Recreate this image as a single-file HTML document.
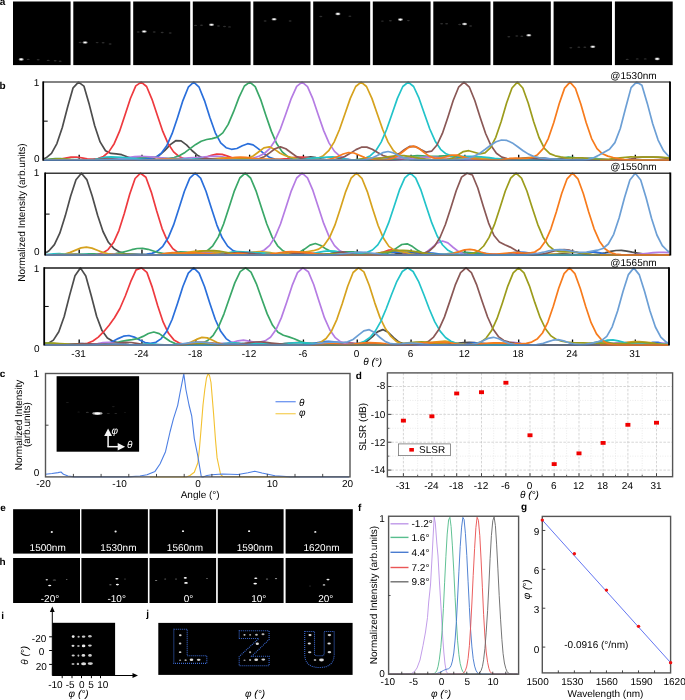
<!DOCTYPE html><html><head><meta charset="utf-8"><style>html,body{margin:0;padding:0;background:#fff;overflow:hidden;}svg{display:block;will-change:transform;}text{font-family:"Liberation Sans", sans-serif;text-rendering:geometricPrecision;}</style></head><body>
<svg width="685" height="700" viewBox="0 0 685 700">
<defs><filter id="bl" x="-100%" y="-100%" width="300%" height="300%"><feGaussianBlur stdDeviation="0.6"/></filter></defs>
<rect width="685" height="700" fill="#fff"/>
<text x="-0.30" y="4.60" font-size="10" font-weight="bold" >a</text>
<rect x="13.00" y="1.50" width="57.60" height="63.60" fill="#000" />
<rect x="73.30" y="1.50" width="57.20" height="63.60" fill="#000" />
<rect x="133.20" y="1.50" width="57.00" height="63.60" fill="#000" />
<rect x="192.80" y="1.50" width="57.80" height="63.60" fill="#000" />
<rect x="253.30" y="1.50" width="57.20" height="63.60" fill="#000" />
<rect x="313.20" y="1.50" width="57.00" height="63.60" fill="#000" />
<rect x="372.80" y="1.50" width="57.80" height="63.60" fill="#000" />
<rect x="433.30" y="1.50" width="57.20" height="63.60" fill="#000" />
<rect x="493.20" y="1.50" width="57.60" height="63.60" fill="#000" />
<rect x="553.60" y="1.50" width="58.40" height="63.60" fill="#000" />
<rect x="614.90" y="1.50" width="57.80" height="63.60" fill="#000" />
<ellipse cx="28.2" cy="59.4" rx="1.5" ry="0.7" fill="#555" opacity="0.55" filter="url(#bl)"/>
<ellipse cx="38.2" cy="59.7" rx="1.5" ry="0.7" fill="#555" opacity="0.55" filter="url(#bl)"/>
<ellipse cx="48.2" cy="60.4" rx="1.5" ry="0.7" fill="#555" opacity="0.55" filter="url(#bl)"/>
<ellipse cx="55.2" cy="60.7" rx="1.5" ry="0.7" fill="#555" opacity="0.55" filter="url(#bl)"/>
<ellipse cx="60.2" cy="61.2" rx="1.5" ry="0.7" fill="#555" opacity="0.55" filter="url(#bl)"/>
<ellipse cx="21.2" cy="59.4" rx="2.6" ry="1.3" fill="#888" filter="url(#bl)"/>
<ellipse cx="21.2" cy="59.4" rx="1.5" ry="0.8" fill="#fff" filter="url(#bl)"/>
<ellipse cx="80.1" cy="42.5" rx="1.5" ry="0.7" fill="#555" opacity="0.55" filter="url(#bl)"/>
<ellipse cx="97.1" cy="42.6" rx="1.5" ry="0.7" fill="#555" opacity="0.55" filter="url(#bl)"/>
<ellipse cx="103.1" cy="42.8" rx="1.5" ry="0.7" fill="#555" opacity="0.55" filter="url(#bl)"/>
<ellipse cx="110.1" cy="44.0" rx="1.5" ry="0.7" fill="#555" opacity="0.55" filter="url(#bl)"/>
<ellipse cx="85.1" cy="42.5" rx="2.6" ry="1.3" fill="#888" filter="url(#bl)"/>
<ellipse cx="85.1" cy="42.5" rx="1.5" ry="0.8" fill="#fff" filter="url(#bl)"/>
<ellipse cx="138.2" cy="32.0" rx="1.5" ry="0.7" fill="#555" opacity="0.55" filter="url(#bl)"/>
<ellipse cx="154.2" cy="32.0" rx="1.5" ry="0.7" fill="#555" opacity="0.55" filter="url(#bl)"/>
<ellipse cx="162.2" cy="32.5" rx="1.5" ry="0.7" fill="#555" opacity="0.55" filter="url(#bl)"/>
<ellipse cx="170.2" cy="33.0" rx="1.5" ry="0.7" fill="#555" opacity="0.55" filter="url(#bl)"/>
<ellipse cx="144.2" cy="31.5" rx="2.6" ry="1.3" fill="#888" filter="url(#bl)"/>
<ellipse cx="144.2" cy="31.5" rx="1.5" ry="0.8" fill="#fff" filter="url(#bl)"/>
<ellipse cx="195.5" cy="25.4" rx="1.5" ry="0.7" fill="#555" opacity="0.55" filter="url(#bl)"/>
<ellipse cx="201.5" cy="25.2" rx="1.5" ry="0.7" fill="#555" opacity="0.55" filter="url(#bl)"/>
<ellipse cx="218.5" cy="26.0" rx="1.5" ry="0.7" fill="#555" opacity="0.55" filter="url(#bl)"/>
<ellipse cx="224.5" cy="26.5" rx="1.5" ry="0.7" fill="#555" opacity="0.55" filter="url(#bl)"/>
<ellipse cx="229.5" cy="26.9" rx="1.5" ry="0.7" fill="#555" opacity="0.55" filter="url(#bl)"/>
<ellipse cx="211.5" cy="24.7" rx="2.6" ry="1.3" fill="#888" filter="url(#bl)"/>
<ellipse cx="211.5" cy="24.7" rx="1.5" ry="0.8" fill="#fff" filter="url(#bl)"/>
<ellipse cx="265.1" cy="21.0" rx="1.5" ry="0.7" fill="#555" opacity="0.55" filter="url(#bl)"/>
<ellipse cx="290.1" cy="21.0" rx="1.5" ry="0.7" fill="#555" opacity="0.55" filter="url(#bl)"/>
<ellipse cx="274.1" cy="19.2" rx="2.6" ry="1.3" fill="#888" filter="url(#bl)"/>
<ellipse cx="274.1" cy="19.2" rx="1.5" ry="0.8" fill="#fff" filter="url(#bl)"/>
<ellipse cx="320.9" cy="16.5" rx="1.5" ry="0.7" fill="#555" opacity="0.55" filter="url(#bl)"/>
<ellipse cx="349.9" cy="16.2" rx="1.5" ry="0.7" fill="#555" opacity="0.55" filter="url(#bl)"/>
<ellipse cx="337.9" cy="13.9" rx="2.6" ry="1.3" fill="#888" filter="url(#bl)"/>
<ellipse cx="337.9" cy="13.9" rx="1.5" ry="0.8" fill="#fff" filter="url(#bl)"/>
<ellipse cx="382.4" cy="21.1" rx="1.5" ry="0.7" fill="#555" opacity="0.55" filter="url(#bl)"/>
<ellipse cx="390.4" cy="20.8" rx="1.5" ry="0.7" fill="#555" opacity="0.55" filter="url(#bl)"/>
<ellipse cx="408.4" cy="20.6" rx="1.5" ry="0.7" fill="#555" opacity="0.55" filter="url(#bl)"/>
<ellipse cx="400.4" cy="19.6" rx="2.6" ry="1.3" fill="#888" filter="url(#bl)"/>
<ellipse cx="400.4" cy="19.6" rx="1.5" ry="0.8" fill="#fff" filter="url(#bl)"/>
<ellipse cx="441.6" cy="23.7" rx="1.5" ry="0.7" fill="#555" opacity="0.55" filter="url(#bl)"/>
<ellipse cx="446.6" cy="23.7" rx="1.5" ry="0.7" fill="#555" opacity="0.55" filter="url(#bl)"/>
<ellipse cx="459.6" cy="24.5" rx="1.5" ry="0.7" fill="#555" opacity="0.55" filter="url(#bl)"/>
<ellipse cx="470.6" cy="26.0" rx="1.5" ry="0.7" fill="#555" opacity="0.55" filter="url(#bl)"/>
<ellipse cx="464.6" cy="24.0" rx="2.6" ry="1.3" fill="#888" filter="url(#bl)"/>
<ellipse cx="464.6" cy="24.0" rx="1.5" ry="0.8" fill="#fff" filter="url(#bl)"/>
<ellipse cx="508.8" cy="36.7" rx="1.5" ry="0.7" fill="#555" opacity="0.55" filter="url(#bl)"/>
<ellipse cx="516.8" cy="36.0" rx="1.5" ry="0.7" fill="#555" opacity="0.55" filter="url(#bl)"/>
<ellipse cx="521.8" cy="36.2" rx="1.5" ry="0.7" fill="#555" opacity="0.55" filter="url(#bl)"/>
<ellipse cx="528.8" cy="35.2" rx="2.6" ry="1.3" fill="#888" filter="url(#bl)"/>
<ellipse cx="528.8" cy="35.2" rx="1.5" ry="0.8" fill="#fff" filter="url(#bl)"/>
<ellipse cx="570.8" cy="47.8" rx="1.5" ry="0.7" fill="#555" opacity="0.55" filter="url(#bl)"/>
<ellipse cx="578.8" cy="47.3" rx="1.5" ry="0.7" fill="#555" opacity="0.55" filter="url(#bl)"/>
<ellipse cx="584.8" cy="47.3" rx="1.5" ry="0.7" fill="#555" opacity="0.55" filter="url(#bl)"/>
<ellipse cx="592.8" cy="46.8" rx="2.6" ry="1.3" fill="#888" filter="url(#bl)"/>
<ellipse cx="592.8" cy="46.8" rx="1.5" ry="0.8" fill="#fff" filter="url(#bl)"/>
<ellipse cx="627.2" cy="59.4" rx="1.5" ry="0.7" fill="#555" opacity="0.55" filter="url(#bl)"/>
<ellipse cx="637.2" cy="58.9" rx="1.5" ry="0.7" fill="#555" opacity="0.55" filter="url(#bl)"/>
<ellipse cx="645.2" cy="58.9" rx="1.5" ry="0.7" fill="#555" opacity="0.55" filter="url(#bl)"/>
<ellipse cx="657.2" cy="58.9" rx="2.6" ry="1.3" fill="#888" filter="url(#bl)"/>
<ellipse cx="657.2" cy="58.9" rx="1.5" ry="0.8" fill="#fff" filter="url(#bl)"/>
<text x="-0.40" y="89.30" font-size="10" font-weight="bold" >b</text>
<line x1="79.18" y1="160.20" x2="79.18" y2="154.70" stroke="#000" stroke-width="1.3" />
<line x1="141.97" y1="160.20" x2="141.97" y2="154.70" stroke="#000" stroke-width="1.3" />
<line x1="195.79" y1="160.20" x2="195.79" y2="154.70" stroke="#000" stroke-width="1.3" />
<line x1="249.61" y1="160.20" x2="249.61" y2="154.70" stroke="#000" stroke-width="1.3" />
<line x1="303.43" y1="160.20" x2="303.43" y2="154.70" stroke="#000" stroke-width="1.3" />
<line x1="357.25" y1="160.20" x2="357.25" y2="154.70" stroke="#000" stroke-width="1.3" />
<line x1="411.07" y1="160.20" x2="411.07" y2="154.70" stroke="#000" stroke-width="1.3" />
<line x1="464.89" y1="160.20" x2="464.89" y2="154.70" stroke="#000" stroke-width="1.3" />
<line x1="518.71" y1="160.20" x2="518.71" y2="154.70" stroke="#000" stroke-width="1.3" />
<line x1="572.53" y1="160.20" x2="572.53" y2="154.70" stroke="#000" stroke-width="1.3" />
<line x1="635.32" y1="160.20" x2="635.32" y2="154.70" stroke="#000" stroke-width="1.3" />
<polyline points="44.0,158.7 46.1,157.8 51.5,153.3 56.9,143.6 62.3,127.5 67.7,106.7 73.1,87.8 78.5,82.1 83.9,86.1 89.3,104.6 94.7,125.7 100.1,141.9 105.5,150.7 110.9,153.4 116.3,153.8 121.7,154.7 127.1,156.7 132.5,158.6 137.9,159.7 143.3,159.9 148.7,159.6 154.1,158.2 159.5,155.2 164.9,150.3 170.3,144.6 175.7,140.7 181.1,140.9 186.5,144.9 191.9,150.5 197.3,155.2 202.7,158.0 208.1,159.4 213.5,159.9 218.9,160.1 224.3,160.0 229.7,159.9 235.1,159.6 240.5,159.3 245.9,159.2 251.3,159.3 256.7,159.6 262.1,159.8 267.5,160.0 272.9,160.1 278.3,160.2 283.7,160.2 289.1,160.2 294.5,159.9 299.9,159.0 305.3,157.6 310.7,156.9 316.1,157.7 321.5,159.1 326.9,159.9 332.3,160.2 337.7,160.2 343.1,160.2 348.5,160.2 353.9,160.2 359.3,160.2 364.7,160.2 370.1,160.1 375.5,160.0 380.9,159.8 386.3,159.5 391.7,159.2 397.1,158.8 402.5,158.6 407.9,158.6 413.3,158.9 418.7,159.2 424.1,159.6 429.5,159.9 434.9,160.0 440.3,160.1 445.7,160.2 451.1,160.2 456.5,160.2 461.9,160.2 467.3,160.2 472.7,160.2 478.1,160.2 483.5,160.2 488.9,160.2 494.3,160.2 499.7,160.2 505.1,160.2 510.5,160.2 515.9,160.2 521.3,160.2 526.7,160.2 532.1,160.2 537.5,160.2 542.9,160.2 548.3,160.2 553.7,160.2 559.1,160.2 564.5,160.2 569.9,160.2 575.3,160.2 580.7,160.2 586.1,160.2 591.5,160.2 596.9,160.2 602.3,160.2 607.7,160.2 613.1,160.2 618.5,160.2 623.9,160.2 629.3,160.2 634.7,160.2 640.1,160.2 645.5,160.2 650.9,160.2 656.3,160.2 661.7,160.2 667.1,160.2 669.0,160.2" fill="none" stroke="#4d4d4d" stroke-width="1.7" stroke-linejoin="round" />
<polyline points="44.0,160.2 49.4,160.1 54.8,159.9 60.2,159.2 65.6,158.1 71.0,157.2 76.4,157.2 81.8,157.9 87.2,158.8 92.6,159.2 98.0,158.6 103.4,156.5 108.8,151.9 114.2,143.7 119.6,131.2 125.0,115.1 130.4,98.5 135.8,85.9 141.2,82.1 146.6,86.5 152.0,99.3 157.4,115.6 162.8,131.4 168.2,143.8 173.6,151.9 179.0,156.5 184.4,158.7 189.8,159.6 195.2,159.6 200.6,158.9 206.0,157.3 211.4,155.3 216.8,154.0 222.2,154.4 227.6,156.1 233.0,158.0 238.4,159.3 243.8,159.9 249.2,160.1 254.6,160.2 260.0,160.2 265.4,160.2 270.8,160.0 276.2,159.8 281.6,159.2 287.0,158.5 292.4,157.6 297.8,157.1 303.2,157.2 308.6,157.8 314.0,158.6 319.4,159.4 324.8,159.8 330.2,160.1 335.6,160.2 341.0,160.2 346.4,160.2 351.8,160.2 357.2,160.2 362.6,160.2 368.0,160.2 373.4,160.2 378.8,160.2 384.2,160.2 389.6,160.1 395.0,159.9 400.4,159.3 405.8,158.7 411.2,158.4 416.6,158.8 422.0,159.4 427.4,159.5 432.8,159.3 438.2,158.8 443.6,158.6 449.0,158.7 454.4,158.9 459.8,158.9 465.2,158.5 470.6,158.5 476.0,158.9 481.4,159.5 486.8,160.0 492.2,160.1 497.6,160.2 503.0,160.2 508.4,160.2 513.8,160.2 519.2,160.2 524.6,160.2 530.0,160.1 535.4,160.0 540.8,159.7 546.2,159.4 551.6,159.2 557.0,159.1 562.4,159.4 567.8,159.7 573.2,160.0 578.6,160.1 584.0,160.2 589.4,160.2 594.8,160.2 600.2,160.2 605.6,160.2 611.0,160.2 616.4,160.2 621.8,160.2 627.2,160.2 632.6,160.2 638.0,160.2 643.4,160.2 648.8,160.2 654.2,160.2 659.6,160.2 665.0,160.2 669.0,160.2" fill="none" stroke="#ee3a3f" stroke-width="1.7" stroke-linejoin="round" />
<polyline points="44.0,160.2 47.9,160.2 53.3,160.2 58.7,160.2 64.1,160.2 69.5,160.2 74.9,160.2 80.3,160.2 85.7,160.1 91.1,160.0 96.5,159.8 101.9,159.5 107.3,159.0 112.7,158.6 118.1,158.5 123.5,158.6 128.9,158.6 134.3,158.1 139.7,158.0 145.1,158.7 150.5,158.8 155.9,157.3 161.3,153.3 166.7,145.8 172.1,133.7 177.5,117.7 182.9,100.6 188.3,87.2 193.7,82.1 199.1,87.2 204.5,100.6 209.9,117.5 215.3,132.8 220.7,142.9 226.1,147.7 231.5,149.3 236.9,148.5 242.3,145.8 247.7,143.7 253.1,144.9 258.5,148.9 263.9,153.6 269.3,157.2 274.7,159.1 280.1,159.9 285.5,160.1 290.9,160.2 296.3,160.2 301.7,160.2 307.1,160.2 312.5,160.2 317.9,160.2 323.3,160.2 328.7,160.2 334.1,160.2 339.5,160.2 344.9,160.2 350.3,160.2 355.7,160.2 361.1,160.2 366.5,160.2 371.9,160.1 377.3,159.9 382.7,159.6 388.1,159.2 393.5,158.7 398.9,158.4 404.3,158.3 409.7,158.5 415.1,158.9 420.5,159.4 425.9,159.8 431.3,160.0 436.7,160.0 442.1,159.7 447.5,159.2 452.9,158.4 458.3,157.8 463.7,157.7 469.1,158.1 474.5,158.7 479.9,159.1 485.3,159.2 490.7,159.1 496.1,158.9 501.5,158.9 506.9,159.0 512.3,159.3 517.7,159.6 523.1,159.7 528.5,159.4 533.9,158.6 539.3,157.9 544.7,158.0 550.1,158.9 555.5,159.7 560.9,160.1 566.3,160.1 571.7,159.9 577.1,159.6 582.5,159.2 587.9,158.9 593.3,158.8 598.7,159.0 604.1,159.4 609.5,159.8 614.9,160.0 620.3,160.1 625.7,160.2 631.1,160.2 636.5,160.2 641.9,160.2 647.3,160.2 652.7,160.2 658.1,160.2 663.5,160.2 668.9,160.2 669.0,160.2" fill="none" stroke="#2a6fdb" stroke-width="1.7" stroke-linejoin="round" />
<polyline points="44.0,159.9 44.6,159.8 50.0,159.1 55.4,158.5 60.8,158.6 66.2,159.3 71.6,159.9 77.0,160.1 82.4,160.2 87.8,160.2 93.2,160.1 98.6,159.9 104.0,159.7 109.4,159.5 114.8,159.4 120.2,159.3 125.6,159.2 131.0,158.9 136.4,158.4 141.8,157.6 147.2,157.1 152.6,157.1 158.0,157.6 163.4,158.1 168.8,158.3 174.2,157.5 179.6,155.6 185.0,152.4 190.4,148.4 195.8,144.4 201.2,141.2 206.6,139.5 212.0,138.6 217.4,137.1 222.8,132.9 228.2,124.4 233.6,111.7 239.0,97.4 244.4,86.0 249.8,82.1 255.2,86.7 260.6,99.3 266.0,115.7 271.4,131.4 276.8,143.8 282.2,151.9 287.6,156.5 293.0,158.8 298.4,159.7 303.8,160.0 309.2,160.2 314.6,160.2 320.0,160.2 325.4,160.2 330.8,160.2 336.2,160.2 341.6,160.2 347.0,160.2 352.4,160.2 357.8,160.2 363.2,160.2 368.6,160.1 374.0,160.0 379.4,159.9 384.8,159.7 390.2,159.4 395.6,158.9 401.0,158.1 406.4,157.0 411.8,156.1 417.2,155.7 422.6,155.9 428.0,156.3 433.4,156.4 438.8,156.2 444.2,155.8 449.6,155.8 455.0,156.2 460.4,157.1 465.8,158.1 471.2,159.0 476.6,159.6 482.0,160.0 487.4,160.1 492.8,160.2 498.2,160.2 503.6,160.2 509.0,160.2 514.4,160.2 519.8,160.2 525.2,160.2 530.6,160.2 536.0,160.2 541.4,160.2 546.8,160.0 552.2,159.6 557.6,158.8 563.0,157.8 568.4,157.2 573.8,157.5 579.2,158.3 584.6,159.3 590.0,159.9 595.4,160.1 600.8,160.2 606.2,160.2 611.6,160.2 617.0,160.2 622.4,160.2 627.8,160.2 633.2,160.2 638.6,160.2 644.0,160.2 649.4,160.2 654.8,160.2 660.2,160.2 665.6,160.2 669.0,160.2" fill="none" stroke="#3aa768" stroke-width="1.7" stroke-linejoin="round" />
<polyline points="44.0,160.2 48.3,160.2 53.7,160.2 59.1,160.2 64.5,160.2 69.9,160.2 75.3,160.2 80.7,160.2 86.1,160.2 91.5,160.2 96.9,160.2 102.3,160.1 107.7,159.9 113.1,159.5 118.5,158.8 123.9,158.0 129.3,157.3 134.7,156.7 140.1,156.4 145.5,156.5 150.9,156.8 156.3,157.3 161.7,157.8 167.1,158.4 172.5,158.7 177.9,158.6 183.3,158.3 188.7,157.9 194.1,157.6 199.5,157.3 204.9,156.8 210.3,156.3 215.7,156.2 221.1,156.7 226.5,157.7 231.9,158.7 237.3,159.3 242.7,159.4 248.1,159.0 253.5,158.0 258.9,156.3 264.3,153.5 269.7,148.6 275.1,140.6 280.5,128.8 285.9,113.8 291.3,98.3 296.7,86.4 302.1,82.1 307.5,86.7 312.9,98.9 318.3,115.0 323.7,130.6 329.1,143.1 334.5,151.4 339.9,156.2 345.3,158.6 350.7,159.6 356.1,159.9 361.5,159.8 366.9,159.5 372.3,158.8 377.7,158.1 383.1,157.5 388.5,157.3 393.9,157.5 399.3,158.0 404.7,158.3 410.1,158.3 415.5,158.0 420.9,157.5 426.3,157.1 431.7,157.1 437.1,157.4 442.5,158.0 447.9,158.7 453.3,159.3 458.7,159.7 464.1,160.0 469.5,160.1 474.9,160.2 480.3,160.2 485.7,160.2 491.1,160.2 496.5,160.2 501.9,160.2 507.3,160.2 512.7,160.2 518.1,160.2 523.5,160.2 528.9,160.2 534.3,160.2 539.7,160.2 545.1,160.2 550.5,160.2 555.9,160.2 561.3,160.1 566.7,159.9 572.1,159.5 577.5,158.8 582.9,158.2 588.3,158.2 593.7,158.6 599.1,159.3 604.5,159.8 609.9,160.1 615.3,160.2 620.7,160.2 626.1,160.2 631.5,160.2 636.9,160.2 642.3,160.2 647.7,160.2 653.1,160.2 658.5,160.2 663.9,160.2 669.0,160.2" fill="none" stroke="#b57ce3" stroke-width="1.7" stroke-linejoin="round" />
<polyline points="44.0,160.2 47.9,160.2 53.3,160.2 58.7,160.2 64.1,160.2 69.5,160.2 74.9,160.2 80.3,160.2 85.7,160.2 91.1,160.2 96.5,160.2 101.9,160.2 107.3,160.2 112.7,160.2 118.1,160.2 123.5,160.2 128.9,160.2 134.3,160.2 139.7,160.2 145.1,160.2 150.5,160.2 155.9,160.2 161.3,160.2 166.7,160.2 172.1,160.2 177.5,160.2 182.9,160.2 188.3,160.1 193.7,160.0 199.1,159.7 204.5,159.4 209.9,159.0 215.3,158.6 220.7,158.2 226.1,157.9 231.5,157.8 236.9,158.1 242.3,158.5 247.7,158.1 253.1,156.0 258.5,152.0 263.9,147.9 269.3,146.8 274.7,149.4 280.1,153.2 285.5,155.7 290.9,157.2 296.3,158.6 301.7,159.5 307.1,159.8 312.5,159.5 317.9,158.3 323.3,155.7 328.7,150.7 334.1,142.1 339.5,129.5 344.9,114.0 350.3,98.4 355.7,86.5 361.1,82.1 366.5,86.5 371.9,98.4 377.3,114.0 382.7,129.5 388.1,142.1 393.5,150.7 398.9,155.7 404.3,158.3 409.7,159.5 415.1,160.0 420.5,160.1 425.9,160.1 431.3,159.9 436.7,159.5 442.1,159.3 447.5,159.4 452.9,159.4 458.3,159.1 463.7,158.4 469.1,157.9 474.5,157.7 479.9,157.9 485.3,158.6 490.7,159.3 496.1,159.7 501.5,159.9 506.9,159.8 512.3,159.4 517.7,158.8 523.1,158.0 528.5,157.5 533.9,157.4 539.3,157.8 544.7,158.5 550.1,159.2 555.5,159.7 560.9,160.0 566.3,160.1 571.7,160.2 577.1,160.2 582.5,160.2 587.9,160.2 593.3,160.2 598.7,160.2 604.1,160.2 609.5,160.2 614.9,160.2 620.3,160.2 625.7,160.2 631.1,160.2 636.5,160.2 641.9,160.2 647.3,160.2 652.7,160.2 658.1,160.2 663.5,160.2 668.9,160.2 669.0,160.2" fill="none" stroke="#d6a21e" stroke-width="1.7" stroke-linejoin="round" />
<polyline points="44.0,160.2 46.4,160.2 51.8,160.2 57.2,160.2 62.6,160.1 68.0,159.9 73.4,159.6 78.8,159.6 84.2,159.8 89.6,159.8 95.0,159.4 100.4,158.3 105.8,157.1 111.2,156.8 116.6,157.1 122.0,157.4 127.4,157.8 132.8,158.4 138.2,159.0 143.6,159.5 149.0,159.9 154.4,160.0 159.8,159.9 165.2,159.6 170.6,159.2 176.0,159.2 181.4,159.4 186.8,159.4 192.2,159.2 197.6,158.8 203.0,158.7 208.4,159.1 213.8,159.6 219.2,160.0 224.6,160.2 230.0,160.2 235.4,160.2 240.8,160.2 246.2,160.2 251.6,160.2 257.0,160.2 262.4,160.2 267.8,160.2 273.2,160.2 278.6,160.1 284.0,160.1 289.4,159.9 294.8,159.6 300.2,159.2 305.6,158.7 311.0,158.2 316.4,157.9 321.8,157.6 327.2,157.2 332.6,156.9 338.0,157.4 343.4,158.6 348.8,159.5 354.2,159.8 359.6,159.4 365.0,158.3 370.4,155.7 375.8,150.7 381.2,142.1 386.6,129.5 392.0,114.0 397.4,98.4 402.8,86.5 408.2,82.1 413.6,86.5 419.0,98.2 424.4,113.8 429.8,129.0 435.2,141.2 440.6,149.3 446.0,153.8 451.4,155.8 456.8,156.4 462.2,156.4 467.6,156.3 473.0,156.3 478.4,156.6 483.8,157.1 489.2,157.7 494.6,158.4 500.0,158.9 505.4,159.4 510.8,159.7 516.2,159.9 521.6,160.1 527.0,160.1 532.4,160.2 537.8,160.2 543.2,160.2 548.6,160.2 554.0,160.2 559.4,160.2 564.8,160.2 570.2,160.2 575.6,160.0 581.0,159.4 586.4,158.5 591.8,158.0 597.2,158.7 602.6,159.6 608.0,160.1 613.4,160.2 618.8,160.2 624.2,160.2 629.6,160.2 635.0,160.2 640.4,160.2 645.8,160.2 651.2,160.2 656.6,160.2 662.0,160.2 667.4,160.2 669.0,160.2" fill="none" stroke="#22c3c9" stroke-width="1.7" stroke-linejoin="round" />
<polyline points="44.0,160.2 48.2,160.2 53.6,160.2 59.0,160.2 64.4,160.2 69.8,160.2 75.2,160.2 80.6,160.2 86.0,160.2 91.4,160.0 96.8,159.6 102.2,159.0 107.6,158.7 113.0,159.0 118.4,159.6 123.8,160.0 129.2,160.2 134.6,160.2 140.0,160.2 145.4,160.2 150.8,160.2 156.2,160.2 161.6,160.2 167.0,160.2 172.4,160.2 177.8,160.2 183.2,160.2 188.6,160.1 194.0,159.9 199.4,159.3 204.8,158.7 210.2,158.8 215.6,159.4 221.0,160.0 226.4,160.2 231.8,160.2 237.2,160.2 242.6,160.2 248.0,160.1 253.4,159.9 258.8,158.9 264.2,156.7 269.6,152.9 275.0,148.8 280.4,146.9 285.8,148.7 291.2,152.7 296.6,156.6 302.0,158.9 307.4,159.8 312.8,160.1 318.2,160.2 323.6,160.2 329.0,160.0 334.4,159.6 339.8,158.5 345.2,156.3 350.6,153.1 356.0,149.6 361.4,147.2 366.8,147.1 372.2,149.3 377.6,152.6 383.0,155.5 388.4,157.0 393.8,156.5 399.2,153.6 404.6,149.4 410.0,146.3 415.4,146.6 420.8,149.6 426.2,152.2 431.6,151.2 437.0,145.0 442.4,133.4 447.8,117.5 453.2,100.5 458.6,87.2 464.0,82.1 469.4,87.2 474.8,100.5 480.2,117.5 485.6,133.5 491.0,145.6 496.4,153.2 501.8,157.1 507.2,158.6 512.6,158.9 518.0,158.6 523.4,158.3 528.8,158.3 534.2,158.6 539.6,159.0 545.0,159.5 550.4,159.7 555.8,159.5 561.2,159.2 566.6,159.3 572.0,159.9 577.4,160.1 582.8,160.2 588.2,160.2 593.6,160.2 599.0,160.2 604.4,160.2 609.8,160.2 615.2,160.2 620.6,160.1 626.0,159.8 631.4,158.9 636.8,157.7 642.2,157.1 647.6,157.1 653.0,157.2 658.4,157.4 663.8,157.9 669.0,158.6" fill="none" stroke="#8a5856" stroke-width="1.7" stroke-linejoin="round" />
<polyline points="44.0,160.0 47.6,159.8 53.0,159.4 58.4,158.9 63.8,159.0 69.2,159.4 74.6,159.9 80.0,160.1 85.4,160.2 90.8,160.2 96.2,160.2 101.6,160.2 107.0,160.2 112.4,160.2 117.8,160.2 123.2,160.2 128.6,160.2 134.0,160.2 139.4,160.2 144.8,160.2 150.2,160.2 155.6,160.2 161.0,160.2 166.4,160.2 171.8,160.2 177.2,160.2 182.6,160.2 188.0,160.2 193.4,160.2 198.8,160.2 204.2,160.2 209.6,160.2 215.0,160.2 220.4,160.1 225.8,160.0 231.2,159.8 236.6,159.5 242.0,159.2 247.4,159.0 252.8,159.1 258.2,159.3 263.6,159.6 269.0,159.8 274.4,160.0 279.8,160.1 285.2,160.2 290.6,160.2 296.0,160.2 301.4,160.2 306.8,160.2 312.2,160.2 317.6,160.2 323.0,160.2 328.4,160.2 333.8,160.2 339.2,160.2 344.6,160.2 350.0,160.2 355.4,159.9 360.8,159.2 366.2,158.4 371.6,158.2 377.0,158.3 382.4,157.8 387.8,156.8 393.2,156.0 398.6,155.5 404.0,155.7 409.4,156.3 414.8,157.3 420.2,158.3 425.6,159.1 431.0,159.6 436.4,159.9 441.8,160.0 447.2,159.6 452.6,158.1 458.0,154.9 463.4,151.6 468.8,150.7 474.2,152.3 479.6,153.8 485.0,152.9 490.4,147.8 495.8,137.3 501.2,121.4 506.6,103.0 512.0,88.0 517.4,82.1 522.8,88.0 528.2,103.0 533.6,121.4 539.0,137.5 544.4,148.3 549.8,153.6 555.2,155.8 560.6,156.9 566.0,157.8 571.4,158.0 576.8,157.9 582.2,157.9 587.6,158.3 593.0,158.8 598.4,159.3 603.8,159.4 609.2,159.2 614.6,158.6 620.0,157.9 625.4,157.3 630.8,156.9 636.2,157.0 641.6,157.1 647.0,157.2 652.4,157.1 657.8,157.1 663.2,157.3 668.6,157.9 669.0,158.0" fill="none" stroke="#9c9c1c" stroke-width="1.7" stroke-linejoin="round" />
<polyline points="44.0,160.2 46.2,160.2 51.6,160.2 57.0,160.2 62.4,160.2 67.8,160.2 73.2,160.2 78.6,160.2 84.0,160.2 89.4,160.2 94.8,160.2 100.2,160.2 105.6,160.2 111.0,160.2 116.4,160.2 121.8,160.2 127.2,160.2 132.6,160.2 138.0,160.2 143.4,160.1 148.8,159.9 154.2,159.6 159.6,159.3 165.0,159.1 170.4,159.1 175.8,159.4 181.2,159.7 186.6,160.0 192.0,160.1 197.4,160.2 202.8,160.2 208.2,160.1 213.6,159.9 219.0,159.5 224.4,158.9 229.8,158.0 235.2,157.3 240.6,157.1 246.0,157.4 251.4,158.2 256.8,158.8 262.2,159.1 267.6,159.0 273.0,159.0 278.4,159.4 283.8,159.8 289.2,160.1 294.6,160.2 300.0,160.2 305.4,160.2 310.8,160.2 316.2,160.2 321.6,160.1 327.0,159.6 332.4,158.5 337.8,156.5 343.2,154.0 348.6,152.5 354.0,153.0 359.4,155.2 364.8,157.6 370.2,159.2 375.6,159.9 381.0,160.1 386.4,159.8 391.8,158.7 397.2,156.2 402.6,152.0 408.0,147.8 413.4,146.1 418.8,148.3 424.2,152.6 429.6,156.4 435.0,158.3 440.4,158.2 445.8,156.7 451.2,155.0 456.6,155.1 462.0,156.6 467.4,157.9 472.8,158.9 478.2,159.5 483.6,159.9 489.0,160.1 494.4,160.1 499.8,159.8 505.2,159.2 510.6,158.4 516.0,158.2 521.4,158.5 526.8,158.5 532.2,157.4 537.6,154.7 543.0,148.9 548.4,138.3 553.8,122.4 559.2,103.7 564.6,88.1 570.0,82.1 575.4,88.3 580.8,104.0 586.2,122.8 591.6,138.6 597.0,148.7 602.4,153.8 607.8,156.1 613.2,157.5 618.6,158.7 624.0,159.5 629.4,160.0 634.8,160.1 640.2,160.2 645.6,160.2 651.0,160.2 656.4,160.2 661.8,160.2 667.2,160.2 669.0,160.2" fill="none" stroke="#f77b1c" stroke-width="1.7" stroke-linejoin="round" />
<polyline points="44.0,160.2 47.9,160.2 53.3,160.2 58.7,160.2 64.1,160.2 69.5,160.2 74.9,160.2 80.3,160.2 85.7,160.2 91.1,160.1 96.5,160.1 101.9,159.9 107.3,159.7 112.7,159.5 118.1,159.3 123.5,159.2 128.9,159.3 134.3,159.5 139.7,159.8 145.1,160.0 150.5,160.1 155.9,160.2 161.3,160.2 166.7,160.2 172.1,160.2 177.5,160.2 182.9,160.2 188.3,160.2 193.7,160.2 199.1,160.2 204.5,160.2 209.9,160.2 215.3,160.2 220.7,160.2 226.1,160.2 231.5,160.2 236.9,160.2 242.3,160.2 247.7,160.2 253.1,160.2 258.5,160.2 263.9,160.2 269.3,160.2 274.7,160.2 280.1,160.2 285.5,160.2 290.9,160.2 296.3,160.2 301.7,160.2 307.1,160.2 312.5,160.2 317.9,160.2 323.3,160.2 328.7,160.2 334.1,160.2 339.5,160.2 344.9,160.2 350.3,160.2 355.7,160.2 361.1,160.0 366.5,159.4 371.9,158.0 377.3,155.5 382.7,152.7 388.1,151.5 393.5,152.9 398.9,155.7 404.3,158.1 409.7,159.5 415.1,160.0 420.5,160.2 425.9,160.2 431.3,160.2 436.7,160.2 442.1,160.2 447.5,160.2 452.9,160.1 458.3,159.8 463.7,159.2 469.1,158.1 474.5,156.1 479.9,153.2 485.3,149.3 490.7,145.2 496.1,141.8 501.5,140.0 506.9,140.4 512.3,142.9 517.7,146.7 523.1,150.7 528.5,154.1 533.9,156.5 539.3,157.9 544.7,158.6 550.1,158.9 555.5,159.2 560.9,159.5 566.3,159.8 571.7,160.0 577.1,160.1 582.5,160.1 587.9,159.5 593.3,158.0 598.7,155.2 604.1,152.2 609.5,149.2 614.9,142.6 620.3,128.5 625.7,107.7 631.1,87.6 636.5,82.1 641.9,85.2 647.3,103.4 652.7,123.7 658.1,140.1 663.5,150.7 668.9,156.5 669.0,156.6" fill="none" stroke="#6c9fd5" stroke-width="1.7" stroke-linejoin="round" />
<line x1="43.20" y1="160.20" x2="600.00" y2="160.20" stroke="#44648f" stroke-width="1.1" />
<line x1="600.00" y1="160.20" x2="670.00" y2="160.20" stroke="#b4683c" stroke-width="1.1" />
<line x1="43.20" y1="82.10" x2="670.00" y2="82.10" stroke="#5a5a5a" stroke-width="1.5" />
<line x1="43.20" y1="81.40" x2="43.20" y2="160.70" stroke="#000" stroke-width="1.8" />
<line x1="670.00" y1="81.40" x2="670.00" y2="160.70" stroke="#000" stroke-width="1.9" />
<line x1="43.20" y1="121.15" x2="47.70" y2="121.15" stroke="#000" stroke-width="1" />
<text x="36.60" y="86.10" font-size="10" text-anchor="middle" >1</text>
<text x="36.70" y="161.80" font-size="10" text-anchor="middle" >0</text>
<text x="656.60" y="79.10" font-size="10" text-anchor="end" >@1530nm</text>
<line x1="79.18" y1="255.00" x2="79.18" y2="249.50" stroke="#000" stroke-width="1.3" />
<line x1="141.97" y1="255.00" x2="141.97" y2="249.50" stroke="#000" stroke-width="1.3" />
<line x1="195.79" y1="255.00" x2="195.79" y2="249.50" stroke="#000" stroke-width="1.3" />
<line x1="249.61" y1="255.00" x2="249.61" y2="249.50" stroke="#000" stroke-width="1.3" />
<line x1="303.43" y1="255.00" x2="303.43" y2="249.50" stroke="#000" stroke-width="1.3" />
<line x1="357.25" y1="255.00" x2="357.25" y2="249.50" stroke="#000" stroke-width="1.3" />
<line x1="411.07" y1="255.00" x2="411.07" y2="249.50" stroke="#000" stroke-width="1.3" />
<line x1="464.89" y1="255.00" x2="464.89" y2="249.50" stroke="#000" stroke-width="1.3" />
<line x1="518.71" y1="255.00" x2="518.71" y2="249.50" stroke="#000" stroke-width="1.3" />
<line x1="572.53" y1="255.00" x2="572.53" y2="249.50" stroke="#000" stroke-width="1.3" />
<line x1="635.32" y1="255.00" x2="635.32" y2="249.50" stroke="#000" stroke-width="1.3" />
<polyline points="45.9,252.7 49.0,250.8 54.4,244.6 59.8,233.2 65.2,216.1 70.6,196.2 76.0,179.7 81.4,173.2 86.8,179.6 92.2,195.9 97.6,215.2 103.0,231.5 108.4,242.3 113.8,248.4 119.2,251.7 124.6,253.5 130.0,254.4 135.4,254.8 140.8,255.0 146.2,255.0 151.6,255.0 157.0,255.0 162.4,255.0 167.8,255.0 173.2,255.0 178.6,255.0 184.0,255.0 189.4,254.9 194.8,254.6 200.2,253.9 205.6,253.2 211.0,253.1 216.4,253.6 221.8,253.7 227.2,253.7 232.6,253.8 238.0,254.2 243.4,254.5 248.8,254.8 254.2,254.9 259.6,255.0 265.0,255.0 270.4,255.0 275.8,255.0 281.2,255.0 286.6,255.0 292.0,255.0 297.4,255.0 302.8,255.0 308.2,255.0 313.6,255.0 319.0,255.0 324.4,255.0 329.8,255.0 335.2,255.0 340.6,255.0 346.0,255.0 351.4,255.0 356.8,255.0 362.2,255.0 367.6,255.0 373.0,255.0 378.4,255.0 383.8,254.9 389.2,254.7 394.6,254.2 400.0,253.3 405.4,252.3 410.8,252.0 416.2,252.6 421.6,253.6 427.0,254.4 432.4,254.8 437.8,255.0 443.2,255.0 448.6,255.0 454.0,255.0 459.4,255.0 464.8,255.0 470.2,255.0 475.6,255.0 481.0,255.0 486.4,255.0 491.8,255.0 497.2,255.0 502.6,255.0 508.0,255.0 513.4,255.0 518.8,255.0 524.2,255.0 529.6,255.0 535.0,255.0 540.4,255.0 545.8,254.8 551.2,254.5 556.6,254.0 562.0,253.8 567.4,254.1 572.8,254.5 578.2,254.9 583.6,255.0 589.0,254.9 594.4,254.6 599.8,254.0 605.2,252.8 610.6,251.4 616.0,250.5 621.4,250.4 626.8,251.1 632.2,252.2 637.6,253.1 643.0,253.9 648.4,254.4 653.8,254.7 659.2,254.9 664.6,255.0 669.3,255.0" fill="none" stroke="#4d4d4d" stroke-width="1.7" stroke-linejoin="round" />
<polyline points="45.9,255.0 48.7,255.0 54.1,255.0 59.5,255.0 64.9,255.0 70.3,255.0 75.7,255.0 81.1,255.0 86.5,255.0 91.9,254.8 97.3,254.4 102.7,253.0 108.1,249.6 113.5,242.6 118.9,230.6 124.3,213.5 129.7,194.2 135.1,178.5 140.5,173.2 145.9,177.2 151.3,192.1 156.7,211.1 162.1,228.6 167.5,241.2 172.9,248.8 178.3,252.6 183.7,254.2 189.1,254.8 194.5,254.9 199.9,255.0 205.3,255.0 210.7,255.0 216.1,255.0 221.5,255.0 226.9,255.0 232.3,255.0 237.7,255.0 243.1,255.0 248.5,255.0 253.9,255.0 259.3,254.9 264.7,254.8 270.1,254.7 275.5,254.4 280.9,253.9 286.3,253.4 291.7,252.9 297.1,252.6 302.5,252.6 307.9,252.9 313.3,253.3 318.7,253.9 324.1,254.3 329.5,254.6 334.9,254.8 340.3,254.9 345.7,255.0 351.1,254.9 356.5,254.8 361.9,254.6 367.3,254.3 372.7,254.0 378.1,253.4 383.5,252.0 388.9,250.1 394.3,249.6 399.7,251.1 405.1,253.1 410.5,254.3 415.9,254.8 421.3,255.0 426.7,255.0 432.1,255.0 437.5,255.0 442.9,255.0 448.3,255.0 453.7,255.0 459.1,255.0 464.5,255.0 469.9,255.0 475.3,255.0 480.7,255.0 486.1,255.0 491.5,255.0 496.9,255.0 502.3,254.9 507.7,254.7 513.1,254.3 518.5,253.7 523.9,253.2 529.3,253.0 534.7,253.4 540.1,254.0 545.5,254.5 550.9,254.8 556.3,254.9 561.7,255.0 567.1,255.0 572.5,255.0 577.9,255.0 583.3,255.0 588.7,255.0 594.1,255.0 599.5,255.0 604.9,255.0 610.3,255.0 615.7,255.0 621.1,255.0 626.5,255.0 631.9,255.0 637.3,255.0 642.7,255.0 648.1,255.0 653.5,255.0 658.9,255.0 664.3,255.0 669.3,255.0" fill="none" stroke="#ee3a3f" stroke-width="1.7" stroke-linejoin="round" />
<polyline points="45.9,255.0 49.4,255.0 54.8,255.0 60.2,255.0 65.6,255.0 71.0,255.0 76.4,255.0 81.8,255.0 87.2,255.0 92.6,255.0 98.0,255.0 103.4,255.0 108.8,254.9 114.2,254.8 119.6,254.5 125.0,254.2 130.4,254.0 135.8,254.1 141.2,254.3 146.6,254.2 152.0,253.4 157.4,251.1 162.8,246.3 168.2,237.8 173.6,224.9 179.0,208.3 184.4,191.3 189.8,178.1 195.2,173.2 200.6,178.1 206.0,191.3 211.4,208.3 216.8,224.8 222.2,237.8 227.6,246.1 233.0,250.6 238.4,252.2 243.8,252.5 249.2,252.4 254.6,252.7 260.0,253.5 265.4,254.2 270.8,254.7 276.2,254.9 281.6,255.0 287.0,255.0 292.4,255.0 297.8,255.0 303.2,255.0 308.6,255.0 314.0,254.9 319.4,254.7 324.8,254.2 330.2,253.5 335.6,252.6 341.0,252.0 346.4,251.9 351.8,252.5 357.2,253.3 362.6,254.0 368.0,254.3 373.4,254.1 378.8,253.6 384.2,252.8 389.6,252.1 395.0,251.9 400.4,252.1 405.8,252.7 411.2,253.1 416.6,253.2 422.0,253.0 427.4,252.9 432.8,253.2 438.2,253.8 443.6,254.4 449.0,254.7 454.4,254.8 459.8,254.6 465.2,254.2 470.6,253.6 476.0,253.2 481.4,253.2 486.8,253.7 492.2,254.2 497.6,254.5 503.0,254.3 508.4,253.6 513.8,252.6 519.2,252.0 524.6,252.3 530.0,253.2 535.4,254.1 540.8,254.7 546.2,254.9 551.6,255.0 557.0,255.0 562.4,255.0 567.8,255.0 573.2,254.9 578.6,254.4 584.0,253.3 589.4,252.2 594.8,251.9 600.2,252.9 605.6,254.1 611.0,254.7 616.4,255.0 621.8,255.0 627.2,255.0 632.6,255.0 638.0,255.0 643.4,255.0 648.8,255.0 654.2,255.0 659.6,255.0 665.0,255.0 669.3,255.0" fill="none" stroke="#2a6fdb" stroke-width="1.7" stroke-linejoin="round" />
<polyline points="45.9,255.0 50.8,255.0 56.2,255.0 61.6,255.0 67.0,255.0 72.4,255.0 77.8,254.8 83.2,254.3 88.6,253.8 94.0,253.8 99.4,254.4 104.8,254.6 110.2,254.3 115.6,253.7 121.0,252.6 126.4,251.2 131.8,249.7 137.2,248.5 142.6,248.3 148.0,249.3 153.4,251.0 158.8,252.7 164.2,253.6 169.6,253.5 175.0,252.6 180.4,251.9 185.8,252.0 191.2,252.8 196.6,253.4 202.0,253.0 207.4,250.7 212.8,245.8 218.2,237.1 223.6,224.0 229.0,207.6 234.4,190.8 239.8,178.0 245.2,173.2 250.6,178.0 256.0,190.8 261.4,207.6 266.8,224.0 272.2,237.1 277.6,245.8 283.0,250.8 288.4,253.2 293.8,253.7 299.2,252.4 304.6,249.1 310.0,245.1 315.4,243.5 320.8,245.5 326.2,249.1 331.6,251.7 337.0,252.5 342.4,252.1 347.8,251.8 353.2,251.9 358.6,252.5 364.0,253.3 369.4,254.0 374.8,254.5 380.2,254.6 385.6,253.9 391.0,251.9 396.4,248.1 401.8,244.5 407.2,243.8 412.6,246.6 418.0,250.6 423.4,253.4 428.8,254.5 434.2,254.7 439.6,254.5 445.0,254.0 450.4,253.4 455.8,252.7 461.2,252.3 466.6,252.4 472.0,252.8 477.4,253.4 482.8,254.1 488.2,254.5 493.6,254.8 499.0,254.9 504.4,255.0 509.8,255.0 515.2,255.0 520.6,255.0 526.0,255.0 531.4,255.0 536.8,255.0 542.2,255.0 547.6,255.0 553.0,255.0 558.4,255.0 563.8,255.0 569.2,255.0 574.6,255.0 580.0,255.0 585.4,255.0 590.8,255.0 596.2,255.0 601.6,255.0 607.0,255.0 612.4,255.0 617.8,255.0 623.2,255.0 628.6,255.0 634.0,255.0 639.4,255.0 644.8,255.0 650.2,255.0 655.6,255.0 661.0,255.0 666.4,255.0 669.3,255.0" fill="none" stroke="#3aa768" stroke-width="1.7" stroke-linejoin="round" />
<polyline points="45.9,255.0 48.3,255.0 53.7,255.0 59.1,255.0 64.5,255.0 69.9,255.0 75.3,255.0 80.7,255.0 86.1,255.0 91.5,255.0 96.9,254.9 102.3,254.4 107.7,253.8 113.1,253.8 118.5,254.4 123.9,254.9 129.3,255.0 134.7,255.0 140.1,255.0 145.5,255.0 150.9,255.0 156.3,255.0 161.7,255.0 167.1,255.0 172.5,255.0 177.9,254.9 183.3,254.7 188.7,254.3 194.1,253.6 199.5,252.8 204.9,252.0 210.3,251.7 215.7,252.1 221.1,252.9 226.5,253.7 231.9,254.4 237.3,254.7 242.7,254.6 248.1,254.1 253.5,253.3 258.9,252.2 264.3,250.0 269.7,245.4 275.1,236.9 280.5,224.0 285.9,207.6 291.3,190.8 296.7,178.0 302.1,173.2 307.5,177.8 312.9,190.4 318.3,206.9 323.7,223.4 329.1,236.6 334.5,245.6 339.9,250.8 345.3,253.3 350.7,254.4 356.1,254.8 361.5,254.9 366.9,255.0 372.3,255.0 377.7,255.0 383.1,255.0 388.5,255.0 393.9,255.0 399.3,255.0 404.7,255.0 410.1,255.0 415.5,254.9 420.9,254.3 426.3,252.2 431.7,248.0 437.1,243.2 442.5,241.0 447.9,242.9 453.3,247.5 458.7,251.7 464.1,254.0 469.5,254.8 474.9,254.9 480.3,254.8 485.7,254.6 491.1,254.4 496.5,254.3 501.9,254.4 507.3,254.6 512.7,254.8 518.1,254.7 523.5,254.3 528.9,253.8 534.3,253.7 539.7,254.2 545.1,254.8 550.5,255.0 555.9,255.0 561.3,255.0 566.7,255.0 572.1,255.0 577.5,255.0 582.9,255.0 588.3,255.0 593.7,255.0 599.1,255.0 604.5,255.0 609.9,255.0 615.3,255.0 620.7,255.0 626.1,254.9 631.5,254.7 636.9,254.4 642.3,253.9 647.7,253.3 653.1,252.7 658.5,252.3 663.9,252.3 669.3,252.7" fill="none" stroke="#b57ce3" stroke-width="1.7" stroke-linejoin="round" />
<polyline points="45.9,255.0 48.7,255.0 54.1,254.9 59.5,254.7 64.9,254.0 70.3,252.4 75.7,250.1 81.1,247.9 86.5,247.1 91.9,248.1 97.3,250.3 102.7,252.4 108.1,253.8 113.5,254.6 118.9,254.9 124.3,255.0 129.7,255.0 135.1,255.0 140.5,255.0 145.9,255.0 151.3,255.0 156.7,254.9 162.1,254.9 167.5,254.7 172.9,254.3 178.3,253.7 183.7,253.0 189.1,252.1 194.5,251.3 199.9,250.8 205.3,250.9 210.7,251.5 216.1,252.3 221.5,253.2 226.9,253.9 232.3,254.3 237.7,254.2 243.1,253.7 248.5,252.9 253.9,252.1 259.3,251.7 264.7,252.0 270.1,252.7 275.5,253.5 280.9,254.0 286.3,254.1 291.7,253.7 297.1,253.0 302.5,252.2 307.9,251.5 313.3,250.7 318.7,249.1 324.1,245.3 329.5,237.6 334.9,225.2 340.3,208.8 345.7,191.6 351.1,178.2 356.5,173.2 361.9,178.3 367.3,191.6 372.7,208.9 378.1,225.5 383.5,238.3 388.9,246.4 394.3,250.1 399.7,251.3 405.1,252.3 410.5,253.8 415.9,254.7 421.3,255.0 426.7,255.0 432.1,255.0 437.5,255.0 442.9,255.0 448.3,255.0 453.7,255.0 459.1,255.0 464.5,255.0 469.9,255.0 475.3,255.0 480.7,255.0 486.1,255.0 491.5,255.0 496.9,255.0 502.3,255.0 507.7,255.0 513.1,255.0 518.5,254.9 523.9,254.8 529.3,254.6 534.7,254.4 540.1,254.2 545.5,254.1 550.9,254.2 556.3,254.4 561.7,254.6 567.1,254.8 572.5,254.9 577.9,255.0 583.3,255.0 588.7,255.0 594.1,255.0 599.5,255.0 604.9,255.0 610.3,255.0 615.7,255.0 621.1,255.0 626.5,255.0 631.9,255.0 637.3,255.0 642.7,255.0 648.1,255.0 653.5,255.0 658.9,255.0 664.3,255.0 669.3,255.0" fill="none" stroke="#d6a21e" stroke-width="1.7" stroke-linejoin="round" />
<polyline points="45.9,254.7 48.4,254.4 53.8,253.8 59.2,253.7 64.6,254.0 70.0,254.0 75.4,253.8 80.8,254.0 86.2,254.4 91.6,254.8 97.0,254.9 102.4,255.0 107.8,255.0 113.2,255.0 118.6,255.0 124.0,255.0 129.4,255.0 134.8,255.0 140.2,255.0 145.6,255.0 151.0,255.0 156.4,255.0 161.8,255.0 167.2,255.0 172.6,255.0 178.0,254.9 183.4,254.7 188.8,254.2 194.2,253.9 199.6,253.8 205.0,253.9 210.4,253.9 215.8,253.9 221.2,253.7 226.6,253.0 232.0,252.1 237.4,251.6 242.8,251.9 248.2,252.4 253.6,252.7 259.0,252.9 264.4,253.2 269.8,253.7 275.2,254.2 280.6,254.5 286.0,254.8 291.4,254.9 296.8,254.9 302.2,254.7 307.6,254.3 313.0,253.5 318.4,252.4 323.8,251.4 329.2,250.9 334.6,251.2 340.0,252.0 345.4,252.8 350.8,253.2 356.2,253.3 361.6,253.1 367.0,252.4 372.4,250.0 377.8,244.9 383.2,236.0 388.6,222.9 394.0,206.7 399.4,190.2 404.8,177.8 410.2,173.2 415.6,177.8 421.0,190.2 426.4,206.7 431.8,222.9 437.2,236.0 442.6,245.0 448.0,250.3 453.4,253.1 458.8,254.3 464.2,254.8 469.6,254.9 475.0,255.0 480.4,255.0 485.8,255.0 491.2,255.0 496.6,255.0 502.0,255.0 507.4,255.0 512.8,255.0 518.2,255.0 523.6,255.0 529.0,255.0 534.4,255.0 539.8,255.0 545.2,255.0 550.6,255.0 556.0,255.0 561.4,255.0 566.8,255.0 572.2,255.0 577.6,255.0 583.0,255.0 588.4,255.0 593.8,255.0 599.2,255.0 604.6,255.0 610.0,255.0 615.4,255.0 620.8,255.0 626.2,255.0 631.6,255.0 637.0,255.0 642.4,255.0 647.8,255.0 653.2,255.0 658.6,255.0 664.0,255.0 669.3,255.0" fill="none" stroke="#22c3c9" stroke-width="1.7" stroke-linejoin="round" />
<polyline points="45.9,255.0 51.2,255.0 56.6,255.0 62.0,255.0 67.4,255.0 72.8,255.0 78.2,255.0 83.6,255.0 89.0,255.0 94.4,255.0 99.8,255.0 105.2,255.0 110.6,255.0 116.0,255.0 121.4,255.0 126.8,255.0 132.2,255.0 137.6,255.0 143.0,255.0 148.4,255.0 153.8,255.0 159.2,255.0 164.6,255.0 170.0,255.0 175.4,255.0 180.8,255.0 186.2,255.0 191.6,255.0 197.0,255.0 202.4,255.0 207.8,254.9 213.2,254.8 218.6,254.5 224.0,254.0 229.4,253.3 234.8,252.8 240.2,252.5 245.6,252.8 251.0,253.4 256.4,254.0 261.8,254.5 267.2,254.8 272.6,254.9 278.0,255.0 283.4,254.9 288.8,254.5 294.2,253.7 299.6,253.5 305.0,254.1 310.4,254.7 315.8,255.0 321.2,255.0 326.6,254.7 332.0,253.9 337.4,252.5 342.8,251.9 348.2,253.0 353.6,254.3 359.0,254.9 364.4,255.0 369.8,255.0 375.2,255.0 380.6,255.0 386.0,255.0 391.4,255.0 396.8,255.0 402.2,255.0 407.6,255.0 413.0,254.8 418.4,254.4 423.8,253.4 429.2,251.0 434.6,246.1 440.0,237.5 445.4,224.5 450.8,208.0 456.2,190.8 461.6,177.1 467.0,173.2 472.4,175.0 477.8,188.0 483.2,205.9 488.6,223.1 494.0,235.5 499.4,242.0 504.8,244.8 510.2,247.1 515.6,250.2 521.0,252.9 526.4,254.4 531.8,254.8 537.2,254.6 542.6,254.0 548.0,252.8 553.4,251.3 558.8,249.9 564.2,249.5 569.6,250.2 575.0,251.7 580.4,253.2 585.8,254.2 591.2,254.7 596.6,254.9 602.0,255.0 607.4,255.0 612.8,255.0 618.2,255.0 623.6,255.0 629.0,255.0 634.4,255.0 639.8,255.0 645.2,255.0 650.6,255.0 656.0,255.0 661.4,255.0 666.8,255.0 669.3,255.0" fill="none" stroke="#8a5856" stroke-width="1.7" stroke-linejoin="round" />
<polyline points="45.9,255.0 46.3,255.0 51.7,255.0 57.1,255.0 62.5,255.0 67.9,255.0 73.3,255.0 78.7,255.0 84.1,255.0 89.5,255.0 94.9,255.0 100.3,254.9 105.7,254.8 111.1,254.6 116.5,254.4 121.9,254.2 127.3,254.2 132.7,254.3 138.1,254.5 143.5,254.7 148.9,254.9 154.3,254.9 159.7,255.0 165.1,255.0 170.5,254.9 175.9,254.8 181.3,254.6 186.7,254.2 192.1,253.4 197.5,252.2 202.9,251.0 208.3,250.5 213.7,250.7 219.1,251.1 224.5,252.0 229.9,253.2 235.3,254.1 240.7,254.7 246.1,254.9 251.5,255.0 256.9,255.0 262.3,255.0 267.7,255.0 273.1,255.0 278.5,255.0 283.9,255.0 289.3,255.0 294.7,255.0 300.1,255.0 305.5,255.0 310.9,254.9 316.3,254.7 321.7,254.4 327.1,254.1 332.5,253.9 337.9,254.1 343.3,254.4 348.7,254.7 354.1,254.8 359.5,254.8 364.9,254.5 370.3,254.1 375.7,253.5 381.1,252.7 386.5,251.8 391.9,251.0 397.3,250.4 402.7,250.3 408.1,250.6 413.5,251.3 418.9,252.2 424.3,253.2 429.7,253.9 435.1,254.5 440.5,254.8 445.9,254.9 451.3,255.0 456.7,254.9 462.1,254.8 467.5,254.4 472.9,253.4 478.3,251.0 483.7,246.0 489.1,237.4 494.5,224.4 499.9,207.9 505.3,191.0 510.7,178.1 516.1,173.2 521.5,178.1 526.9,191.0 532.3,207.9 537.7,224.3 543.1,237.2 548.5,245.6 553.9,250.0 559.3,251.7 564.7,251.9 570.1,251.9 575.5,252.2 580.9,253.0 586.3,253.8 591.7,254.4 597.1,254.8 602.5,254.9 607.9,255.0 613.3,255.0 618.7,255.0 624.1,255.0 629.5,255.0 634.9,255.0 640.3,255.0 645.7,255.0 651.1,255.0 656.5,255.0 661.9,255.0 667.3,255.0 669.3,255.0" fill="none" stroke="#9c9c1c" stroke-width="1.7" stroke-linejoin="round" />
<polyline points="45.9,255.0 48.7,255.0 54.1,254.9 59.5,254.7 64.9,254.5 70.3,254.3 75.7,254.4 81.1,254.6 86.5,254.9 91.9,255.0 97.3,255.0 102.7,255.0 108.1,255.0 113.5,255.0 118.9,255.0 124.3,255.0 129.7,255.0 135.1,255.0 140.5,255.0 145.9,255.0 151.3,255.0 156.7,254.9 162.1,254.2 167.5,253.1 172.9,252.7 178.3,253.0 183.7,253.1 189.1,252.8 194.5,252.8 199.9,253.1 205.3,253.4 210.7,253.8 216.1,254.2 221.5,254.5 226.9,254.6 232.3,254.0 237.7,253.4 243.1,253.8 248.5,254.6 253.9,254.9 259.3,254.9 264.7,254.7 270.1,254.1 275.5,253.3 280.9,252.5 286.3,251.9 291.7,251.7 297.1,251.8 302.5,252.3 307.9,252.9 313.3,253.6 318.7,254.3 324.1,254.7 329.5,254.9 334.9,255.0 340.3,255.0 345.7,255.0 351.1,255.0 356.5,255.0 361.9,255.0 367.3,255.0 372.7,255.0 378.1,255.0 383.5,255.0 388.9,255.0 394.3,255.0 399.7,255.0 405.1,255.0 410.5,255.0 415.9,255.0 421.3,255.0 426.7,255.0 432.1,255.0 437.5,255.0 442.9,254.8 448.3,254.4 453.7,253.3 459.1,251.6 464.5,249.9 469.9,249.3 475.3,250.2 480.7,252.0 486.1,253.5 491.5,254.2 496.9,254.1 502.3,253.6 507.7,253.0 513.1,252.6 518.5,252.7 523.9,253.0 529.3,253.1 534.7,252.0 540.1,248.5 545.5,241.1 550.9,228.8 556.3,211.9 561.7,193.5 567.1,178.8 572.5,173.2 577.9,178.8 583.3,193.5 588.7,211.9 594.1,228.8 599.5,241.2 604.9,248.7 610.3,252.5 615.7,254.1 621.1,254.7 626.5,254.9 631.9,255.0 637.3,255.0 642.7,255.0 648.1,255.0 653.5,255.0 658.9,255.0 664.3,255.0 669.3,255.0" fill="none" stroke="#f77b1c" stroke-width="1.7" stroke-linejoin="round" />
<polyline points="45.9,255.0 46.7,255.0 52.1,255.0 57.5,255.0 62.9,255.0 68.3,255.0 73.7,255.0 79.1,255.0 84.5,255.0 89.9,255.0 95.3,255.0 100.7,255.0 106.1,255.0 111.5,255.0 116.9,255.0 122.3,255.0 127.7,255.0 133.1,255.0 138.5,255.0 143.9,255.0 149.3,255.0 154.7,255.0 160.1,255.0 165.5,255.0 170.9,255.0 176.3,255.0 181.7,255.0 187.1,255.0 192.5,255.0 197.9,255.0 203.3,255.0 208.7,255.0 214.1,255.0 219.5,255.0 224.9,255.0 230.3,255.0 235.7,255.0 241.1,255.0 246.5,255.0 251.9,255.0 257.3,255.0 262.7,255.0 268.1,255.0 273.5,255.0 278.9,255.0 284.3,255.0 289.7,255.0 295.1,255.0 300.5,255.0 305.9,255.0 311.3,255.0 316.7,255.0 322.1,255.0 327.5,254.9 332.9,254.8 338.3,254.4 343.7,253.9 349.1,253.1 354.5,252.5 359.9,252.2 365.3,252.4 370.7,253.0 376.1,253.7 381.5,254.3 386.9,254.7 392.3,254.9 397.7,255.0 403.1,255.0 408.5,255.0 413.9,255.0 419.3,254.9 424.7,254.8 430.1,254.7 435.5,254.5 440.9,254.3 446.3,254.2 451.7,254.3 457.1,254.4 462.5,254.6 467.9,254.8 473.3,254.9 478.7,255.0 484.1,255.0 489.5,255.0 494.9,255.0 500.3,255.0 505.7,255.0 511.1,255.0 516.5,255.0 521.9,254.9 527.3,254.7 532.7,254.2 538.1,253.4 543.5,252.2 548.9,250.8 554.3,249.8 559.7,249.6 565.1,250.1 570.5,251.0 575.9,252.0 581.3,252.4 586.7,252.1 592.1,251.2 597.5,250.2 602.9,248.5 608.3,244.0 613.7,234.3 619.1,218.0 624.5,197.7 629.9,180.1 635.3,173.2 640.7,180.1 646.1,197.7 651.5,218.2 656.9,235.0 662.3,245.6 667.7,251.0 669.3,252.0" fill="none" stroke="#6c9fd5" stroke-width="1.7" stroke-linejoin="round" />
<line x1="45.10" y1="255.00" x2="600.00" y2="255.00" stroke="#44648f" stroke-width="1.1" />
<line x1="600.00" y1="255.00" x2="670.30" y2="255.00" stroke="#b4683c" stroke-width="1.1" />
<line x1="45.10" y1="173.20" x2="670.30" y2="173.20" stroke="#3a3a3a" stroke-width="1.5" />
<line x1="45.10" y1="172.50" x2="45.10" y2="255.50" stroke="#000" stroke-width="1.8" />
<line x1="670.30" y1="172.50" x2="670.30" y2="255.50" stroke="#000" stroke-width="1.9" />
<line x1="45.10" y1="214.10" x2="49.60" y2="214.10" stroke="#000" stroke-width="1" />
<text x="36.60" y="175.90" font-size="10" text-anchor="middle" >1</text>
<text x="36.70" y="254.90" font-size="10" text-anchor="middle" >0</text>
<text x="656.60" y="170.30" font-size="10" text-anchor="end" >@1550nm</text>
<line x1="79.18" y1="345.00" x2="79.18" y2="339.50" stroke="#000" stroke-width="1.3" />
<line x1="141.97" y1="345.00" x2="141.97" y2="339.50" stroke="#000" stroke-width="1.3" />
<line x1="195.79" y1="345.00" x2="195.79" y2="339.50" stroke="#000" stroke-width="1.3" />
<line x1="249.61" y1="345.00" x2="249.61" y2="339.50" stroke="#000" stroke-width="1.3" />
<line x1="303.43" y1="345.00" x2="303.43" y2="339.50" stroke="#000" stroke-width="1.3" />
<line x1="357.25" y1="345.00" x2="357.25" y2="339.50" stroke="#000" stroke-width="1.3" />
<line x1="411.07" y1="345.00" x2="411.07" y2="339.50" stroke="#000" stroke-width="1.3" />
<line x1="464.89" y1="345.00" x2="464.89" y2="339.50" stroke="#000" stroke-width="1.3" />
<line x1="518.71" y1="345.00" x2="518.71" y2="339.50" stroke="#000" stroke-width="1.3" />
<line x1="572.53" y1="345.00" x2="572.53" y2="339.50" stroke="#000" stroke-width="1.3" />
<line x1="635.32" y1="345.00" x2="635.32" y2="339.50" stroke="#000" stroke-width="1.3" />
<polyline points="45.0,344.3 48.0,343.5 53.4,340.1 58.8,331.8 64.2,316.5 69.6,295.4 75.0,275.8 80.4,267.9 85.8,276.0 91.2,295.6 96.6,316.2 102.0,330.6 107.4,338.0 112.8,341.2 118.2,342.8 123.6,343.8 129.0,344.5 134.4,344.8 139.8,345.0 145.2,345.0 150.6,345.0 156.0,345.0 161.4,345.0 166.8,345.0 172.2,345.0 177.6,345.0 183.0,345.0 188.4,345.0 193.8,345.0 199.2,345.0 204.6,345.0 210.0,345.0 215.4,345.0 220.8,345.0 226.2,345.0 231.6,345.0 237.0,345.0 242.4,345.0 247.8,345.0 253.2,345.0 258.6,345.0 264.0,345.0 269.4,345.0 274.8,345.0 280.2,345.0 285.6,345.0 291.0,345.0 296.4,345.0 301.8,345.0 307.2,345.0 312.6,345.0 318.0,345.0 323.4,344.9 328.8,344.9 334.2,344.7 339.6,344.6 345.0,344.4 350.4,344.3 355.8,344.3 361.2,343.7 366.6,341.6 372.0,337.2 377.4,331.9 382.8,329.6 388.2,332.3 393.6,337.7 399.0,342.1 404.4,344.1 409.8,344.7 415.2,344.6 420.6,344.2 426.0,343.5 431.4,342.9 436.8,342.6 442.2,342.7 447.6,343.0 453.0,343.3 458.4,343.2 463.8,342.7 469.2,342.3 474.6,342.7 480.0,343.7 485.4,344.5 490.8,344.7 496.2,344.4 501.6,343.9 507.0,343.3 512.4,343.1 517.8,343.4 523.2,344.0 528.6,344.5 534.0,344.8 539.4,345.0 544.8,345.0 550.2,345.0 555.6,345.0 561.0,345.0 566.4,345.0 571.8,345.0 577.2,345.0 582.6,345.0 588.0,345.0 593.4,345.0 598.8,345.0 604.2,345.0 609.6,345.0 615.0,345.0 620.4,345.0 625.8,345.0 631.2,345.0 636.6,345.0 642.0,345.0 647.4,345.0 652.8,345.0 658.2,345.0 663.6,345.0 668.0,345.0" fill="none" stroke="#4d4d4d" stroke-width="1.7" stroke-linejoin="round" />
<polyline points="45.0,345.0 49.7,345.0 55.1,345.0 60.5,345.0 65.9,345.0 71.3,345.0 76.7,344.8 82.1,344.4 87.5,343.3 92.9,341.0 98.3,337.1 103.7,331.7 109.1,325.2 114.5,317.8 119.9,308.5 125.3,296.0 130.7,281.7 136.1,269.9 141.5,267.9 146.9,272.4 152.3,287.4 157.7,305.7 163.1,321.9 168.5,333.3 173.9,339.9 179.3,343.1 184.7,344.3 190.1,344.5 195.5,344.4 200.9,344.2 206.3,344.3 211.7,344.6 217.1,344.8 222.5,344.7 227.9,343.9 233.3,343.0 238.7,343.4 244.1,344.4 249.5,344.9 254.9,345.0 260.3,344.9 265.7,344.8 271.1,344.6 276.5,344.3 281.9,343.9 287.3,343.4 292.7,342.9 298.1,342.7 303.5,342.7 308.9,343.0 314.3,343.4 319.7,343.7 325.1,343.7 330.5,343.4 335.9,343.0 341.3,342.7 346.7,342.8 352.1,343.2 357.5,343.8 362.9,344.4 368.3,344.7 373.7,344.9 379.1,345.0 384.5,345.0 389.9,345.0 395.3,345.0 400.7,345.0 406.1,345.0 411.5,344.9 416.9,344.7 422.3,343.8 427.7,342.9 433.1,343.1 438.5,344.1 443.9,344.8 449.3,345.0 454.7,345.0 460.1,345.0 465.5,345.0 470.9,344.9 476.3,344.8 481.7,344.6 487.1,344.4 492.5,344.1 497.9,343.9 503.3,343.9 508.7,344.1 514.1,344.4 519.5,344.7 524.9,344.9 530.3,345.0 535.7,345.0 541.1,345.0 546.5,345.0 551.9,345.0 557.3,345.0 562.7,345.0 568.1,345.0 573.5,345.0 578.9,345.0 584.3,345.0 589.7,345.0 595.1,345.0 600.5,345.0 605.9,345.0 611.3,345.0 616.7,345.0 622.1,345.0 627.5,345.0 632.9,344.9 638.3,344.6 643.7,344.0 649.1,343.4 654.5,343.2 659.9,343.5 665.3,344.2 668.0,344.5" fill="none" stroke="#ee3a3f" stroke-width="1.7" stroke-linejoin="round" />
<polyline points="45.0,345.0 47.9,345.0 53.3,344.9 58.7,344.8 64.1,344.6 69.5,344.3 74.9,344.0 80.3,343.7 85.7,343.8 91.1,344.1 96.5,344.4 101.9,344.4 107.3,343.5 112.7,341.5 118.1,338.6 123.5,336.2 128.9,335.5 134.3,337.1 139.7,340.1 145.1,342.6 150.5,343.4 155.9,342.3 161.3,338.6 166.7,331.3 172.1,319.5 177.5,303.6 182.9,286.5 188.3,273.1 193.7,267.9 199.1,273.1 204.5,286.5 209.9,303.6 215.3,319.5 220.7,331.3 226.1,338.6 231.5,342.4 236.9,344.1 242.3,344.7 247.7,344.9 253.1,345.0 258.5,345.0 263.9,345.0 269.3,345.0 274.7,345.0 280.1,345.0 285.5,345.0 290.9,345.0 296.3,344.9 301.7,344.7 307.1,344.3 312.5,343.6 317.9,342.5 323.3,341.5 328.7,341.3 334.1,341.8 339.5,342.6 344.9,343.2 350.3,343.6 355.7,343.6 361.1,343.3 366.5,343.1 371.9,343.4 377.3,344.0 382.7,344.5 388.1,344.8 393.5,345.0 398.9,345.0 404.3,345.0 409.7,345.0 415.1,345.0 420.5,345.0 425.9,345.0 431.3,345.0 436.7,345.0 442.1,345.0 447.5,345.0 452.9,345.0 458.3,344.8 463.7,344.3 469.1,343.5 474.5,342.8 479.9,342.9 485.3,343.7 490.7,344.4 496.1,344.8 501.5,345.0 506.9,345.0 512.3,345.0 517.7,345.0 523.1,345.0 528.5,345.0 533.9,345.0 539.3,345.0 544.7,345.0 550.1,345.0 555.5,345.0 560.9,345.0 566.3,345.0 571.7,345.0 577.1,345.0 582.5,345.0 587.9,345.0 593.3,345.0 598.7,345.0 604.1,345.0 609.5,345.0 614.9,345.0 620.3,345.0 625.7,345.0 631.1,345.0 636.5,345.0 641.9,344.7 647.3,343.8 652.7,342.3 658.1,342.4 663.5,343.8 668.0,344.7" fill="none" stroke="#2a6fdb" stroke-width="1.7" stroke-linejoin="round" />
<polyline points="45.0,343.2 45.8,343.2 51.2,343.4 56.6,344.0 62.0,344.5 67.4,344.8 72.8,345.0 78.2,345.0 83.6,345.0 89.0,345.0 94.4,345.0 99.8,344.8 105.2,344.5 110.6,343.8 116.0,342.7 121.4,341.3 126.8,340.4 132.2,339.7 137.6,338.7 143.0,336.4 148.4,333.5 153.8,332.0 159.2,333.6 164.6,337.5 170.0,341.2 175.4,343.6 180.8,344.6 186.2,344.8 191.6,344.7 197.0,344.3 202.4,343.1 207.8,340.4 213.2,335.3 218.6,326.6 224.0,313.8 229.4,298.3 234.8,282.9 240.2,271.6 245.6,267.9 251.0,272.1 256.4,283.8 261.8,299.0 267.2,313.9 272.6,325.3 278.0,332.2 283.4,335.3 288.8,336.9 294.2,338.8 299.6,341.1 305.0,343.1 310.4,344.3 315.8,344.8 321.2,345.0 326.6,345.0 332.0,345.0 337.4,345.0 342.8,345.0 348.2,345.0 353.6,345.0 359.0,345.0 364.4,345.0 369.8,345.0 375.2,345.0 380.6,345.0 386.0,345.0 391.4,345.0 396.8,345.0 402.2,345.0 407.6,345.0 413.0,345.0 418.4,345.0 423.8,345.0 429.2,345.0 434.6,345.0 440.0,345.0 445.4,345.0 450.8,345.0 456.2,345.0 461.6,345.0 467.0,345.0 472.4,345.0 477.8,345.0 483.2,345.0 488.6,345.0 494.0,345.0 499.4,345.0 504.8,345.0 510.2,345.0 515.6,345.0 521.0,345.0 526.4,345.0 531.8,345.0 537.2,345.0 542.6,345.0 548.0,345.0 553.4,345.0 558.8,345.0 564.2,345.0 569.6,345.0 575.0,345.0 580.4,344.8 585.8,344.3 591.2,343.3 596.6,342.0 602.0,341.3 607.4,342.1 612.8,343.6 618.2,344.4 623.6,344.3 629.0,344.0 634.4,343.9 639.8,344.0 645.2,344.3 650.6,344.6 656.0,344.8 661.4,344.9 666.8,345.0 668.0,345.0" fill="none" stroke="#3aa768" stroke-width="1.7" stroke-linejoin="round" />
<polyline points="45.0,345.0 49.1,345.0 54.5,345.0 59.9,345.0 65.3,345.0 70.7,345.0 76.1,345.0 81.5,345.0 86.9,344.9 92.3,344.5 97.7,343.7 103.1,342.7 108.5,342.3 113.9,343.0 119.3,344.0 124.7,344.7 130.1,344.9 135.5,345.0 140.9,345.0 146.3,345.0 151.7,345.0 157.1,345.0 162.5,345.0 167.9,345.0 173.3,345.0 178.7,345.0 184.1,345.0 189.5,345.0 194.9,345.0 200.3,345.0 205.7,344.8 211.1,344.5 216.5,344.0 221.9,343.4 227.3,343.0 232.7,342.2 238.1,340.8 243.5,340.2 248.9,341.2 254.3,342.1 259.7,342.1 265.1,340.9 270.5,337.2 275.9,329.8 281.3,317.9 286.7,302.3 292.1,285.7 297.5,272.7 302.9,267.9 308.3,271.7 313.7,284.5 319.1,301.6 324.5,317.9 329.9,330.0 335.3,337.7 340.7,341.9 346.1,343.8 351.5,344.6 356.9,344.9 362.3,345.0 367.7,345.0 373.1,345.0 378.5,345.0 383.9,345.0 389.3,345.0 394.7,345.0 400.1,345.0 405.5,345.0 410.9,345.0 416.3,345.0 421.7,345.0 427.1,345.0 432.5,345.0 437.9,345.0 443.3,345.0 448.7,345.0 454.1,345.0 459.5,345.0 464.9,345.0 470.3,345.0 475.7,345.0 481.1,345.0 486.5,345.0 491.9,345.0 497.3,344.8 502.7,344.1 508.1,343.0 513.5,342.3 518.9,343.1 524.3,344.2 529.7,344.8 535.1,345.0 540.5,345.0 545.9,345.0 551.3,345.0 556.7,345.0 562.1,345.0 567.5,345.0 572.9,345.0 578.3,345.0 583.7,345.0 589.1,344.9 594.5,344.8 599.9,344.5 605.3,344.0 610.7,343.5 616.1,342.9 621.5,342.6 626.9,342.7 632.3,343.1 637.7,343.7 643.1,344.2 648.5,344.5 653.9,344.3 659.3,343.7 664.7,343.1 668.0,342.9" fill="none" stroke="#b57ce3" stroke-width="1.7" stroke-linejoin="round" />
<polyline points="45.0,345.0 45.3,345.0 50.7,345.0 56.1,345.0 61.5,345.0 66.9,345.0 72.3,345.0 77.7,345.0 83.1,345.0 88.5,345.0 93.9,345.0 99.3,345.0 104.7,345.0 110.1,345.0 115.5,345.0 120.9,345.0 126.3,345.0 131.7,345.0 137.1,345.0 142.5,345.0 147.9,345.0 153.3,345.0 158.7,345.0 164.1,345.0 169.5,345.0 174.9,345.0 180.3,344.7 185.7,344.0 191.1,342.1 196.5,339.4 201.9,337.4 207.3,337.9 212.7,340.3 218.1,342.9 223.5,344.3 228.9,344.8 234.3,345.0 239.7,345.0 245.1,345.0 250.5,345.0 255.9,345.0 261.3,345.0 266.7,345.0 272.1,345.0 277.5,345.0 282.9,345.0 288.3,345.0 293.7,345.0 299.1,345.0 304.5,344.9 309.9,344.7 315.3,344.1 320.7,342.3 326.1,338.5 331.5,331.2 336.9,319.3 342.3,303.4 347.7,286.2 353.1,272.5 358.5,267.9 363.9,271.9 369.3,285.5 374.7,302.6 380.1,317.9 385.5,328.8 390.9,336.4 396.3,341.4 401.7,343.8 407.1,344.5 412.5,344.5 417.9,344.1 423.3,343.5 428.7,342.8 434.1,342.1 439.5,341.5 444.9,341.2 450.3,341.9 455.7,343.2 461.1,344.2 466.5,344.6 471.9,344.8 477.3,344.7 482.7,344.5 488.1,344.1 493.5,343.6 498.9,343.3 504.3,343.3 509.7,343.6 515.1,344.1 520.5,344.5 525.9,344.8 531.3,344.9 536.7,345.0 542.1,345.0 547.5,345.0 552.9,345.0 558.3,345.0 563.7,345.0 569.1,345.0 574.5,345.0 579.9,345.0 585.3,345.0 590.7,345.0 596.1,345.0 601.5,345.0 606.9,344.9 612.3,344.7 617.7,344.1 623.1,343.1 628.5,342.2 633.9,341.7 639.3,341.7 644.7,342.1 650.1,342.7 655.5,343.5 660.9,344.1 666.3,344.6 668.0,344.7" fill="none" stroke="#d6a21e" stroke-width="1.7" stroke-linejoin="round" />
<polyline points="45.0,345.0 45.9,345.0 51.3,345.0 56.7,345.0 62.1,345.0 67.5,345.0 72.9,345.0 78.3,345.0 83.7,345.0 89.1,345.0 94.5,345.0 99.9,345.0 105.3,345.0 110.7,345.0 116.1,345.0 121.5,345.0 126.9,345.0 132.3,344.9 137.7,344.6 143.1,344.2 148.5,344.0 153.9,344.2 159.3,344.6 164.7,344.9 170.1,345.0 175.5,345.0 180.9,345.0 186.3,345.0 191.7,345.0 197.1,345.0 202.5,345.0 207.9,344.9 213.3,344.8 218.7,344.3 224.1,343.6 229.5,343.0 234.9,342.9 240.3,343.3 245.7,343.6 251.1,343.7 256.5,343.6 261.9,343.6 267.3,343.7 272.7,343.9 278.1,343.8 283.5,343.6 288.9,343.2 294.3,342.8 299.7,342.7 305.1,342.8 310.5,343.2 315.9,343.7 321.3,344.2 326.7,344.5 332.1,344.8 337.5,344.9 342.9,344.9 348.3,344.7 353.7,344.3 359.1,343.4 364.5,341.3 369.9,337.5 375.3,331.1 380.7,321.6 386.1,309.0 391.5,294.8 396.9,281.3 402.3,271.5 407.7,267.9 413.1,271.5 418.5,281.3 423.9,294.8 429.3,309.0 434.7,321.6 440.1,331.1 445.5,337.5 450.9,341.3 456.3,343.4 461.7,344.3 467.1,344.8 472.5,344.9 477.9,345.0 483.3,345.0 488.7,345.0 494.1,345.0 499.5,345.0 504.9,345.0 510.3,345.0 515.7,345.0 521.1,345.0 526.5,345.0 531.9,345.0 537.3,345.0 542.7,345.0 548.1,345.0 553.5,345.0 558.9,345.0 564.3,345.0 569.7,345.0 575.1,345.0 580.5,345.0 585.9,344.9 591.3,344.5 596.7,343.5 602.1,341.7 607.5,340.1 612.9,339.8 618.3,340.9 623.7,342.4 629.1,343.6 634.5,344.1 639.9,344.2 645.3,344.0 650.7,343.8 656.1,343.8 661.5,344.0 666.9,344.3 668.0,344.4" fill="none" stroke="#22c3c9" stroke-width="1.7" stroke-linejoin="round" />
<polyline points="45.0,345.0 50.2,344.9 55.6,344.8 61.0,344.6 66.4,344.4 71.8,344.1 77.2,343.8 82.6,343.7 88.0,343.8 93.4,344.0 98.8,344.2 104.2,344.2 109.6,343.9 115.0,343.4 120.4,342.9 125.8,342.4 131.2,342.5 136.6,343.3 142.0,344.3 147.4,344.8 152.8,344.9 158.2,345.0 163.6,345.0 169.0,345.0 174.4,344.9 179.8,344.7 185.2,344.4 190.6,344.0 196.0,343.5 201.4,343.1 206.8,343.0 212.2,343.2 217.6,343.6 223.0,344.1 228.4,344.3 233.8,344.3 239.2,344.0 244.6,343.4 250.0,342.6 255.4,342.0 260.8,341.9 266.2,342.4 271.6,343.1 277.0,343.7 282.4,344.2 287.8,344.6 293.2,344.8 298.6,344.9 304.0,345.0 309.4,345.0 314.8,345.0 320.2,345.0 325.6,345.0 331.0,345.0 336.4,345.0 341.8,345.0 347.2,345.0 352.6,344.9 358.0,344.6 363.4,344.0 368.8,343.5 374.2,343.5 379.6,344.0 385.0,344.5 390.4,344.8 395.8,345.0 401.2,345.0 406.6,345.0 412.0,344.9 417.4,344.5 422.8,343.7 428.2,341.6 433.6,337.1 439.0,329.2 444.4,317.1 449.8,301.4 455.2,285.2 460.6,272.6 466.0,267.9 471.4,272.6 476.8,285.2 482.2,301.4 487.6,317.0 493.0,329.0 498.4,336.6 503.8,340.5 509.2,342.1 514.6,343.0 520.0,343.7 525.4,344.3 530.8,344.8 536.2,344.9 541.6,345.0 547.0,345.0 552.4,345.0 557.8,345.0 563.2,345.0 568.6,345.0 574.0,345.0 579.4,345.0 584.8,345.0 590.2,345.0 595.6,345.0 601.0,345.0 606.4,345.0 611.8,345.0 617.2,345.0 622.6,345.0 628.0,345.0 633.4,345.0 638.8,345.0 644.2,345.0 649.6,345.0 655.0,345.0 660.4,345.0 665.8,345.0 668.0,345.0" fill="none" stroke="#8a5856" stroke-width="1.7" stroke-linejoin="round" />
<polyline points="45.0,343.0 48.8,343.0 54.2,343.1 59.6,343.5 65.0,343.9 70.4,344.4 75.8,344.7 81.2,344.9 86.6,345.0 92.0,345.0 97.4,345.0 102.8,345.0 108.2,345.0 113.6,345.0 119.0,345.0 124.4,345.0 129.8,345.0 135.2,345.0 140.6,345.0 146.0,345.0 151.4,345.0 156.8,345.0 162.2,345.0 167.6,345.0 173.0,345.0 178.4,344.9 183.8,344.6 189.2,344.1 194.6,343.6 200.0,343.4 205.4,343.7 210.8,344.2 216.2,344.7 221.6,344.9 227.0,345.0 232.4,345.0 237.8,345.0 243.2,345.0 248.6,345.0 254.0,345.0 259.4,345.0 264.8,345.0 270.2,345.0 275.6,345.0 281.0,345.0 286.4,345.0 291.8,345.0 297.2,345.0 302.6,345.0 308.0,345.0 313.4,345.0 318.8,345.0 324.2,345.0 329.6,345.0 335.0,345.0 340.4,345.0 345.8,345.0 351.2,345.0 356.6,345.0 362.0,345.0 367.4,345.0 372.8,345.0 378.2,344.9 383.6,344.8 389.0,344.6 394.4,344.3 399.8,343.8 405.2,343.1 410.6,342.5 416.0,342.0 421.4,341.9 426.8,342.2 432.2,342.8 437.6,343.5 443.0,344.0 448.4,344.5 453.8,344.8 459.2,344.9 464.6,344.9 470.0,344.7 475.4,343.9 480.8,342.1 486.2,338.1 491.6,330.6 497.0,318.7 502.4,302.9 507.8,286.1 513.2,272.9 518.6,267.9 524.0,272.8 529.4,285.8 534.8,302.4 540.2,317.7 545.6,329.0 551.0,335.9 556.4,339.5 561.8,341.2 567.2,342.1 572.6,342.6 578.0,342.8 583.4,342.9 588.8,343.1 594.2,343.2 599.6,343.1 605.0,343.1 610.4,343.3 615.8,343.6 621.2,343.6 626.6,343.3 632.0,342.7 637.4,342.3 642.8,342.3 648.2,342.8 653.6,343.4 659.0,344.0 664.4,344.5 668.0,344.7" fill="none" stroke="#9c9c1c" stroke-width="1.7" stroke-linejoin="round" />
<polyline points="45.0,345.0 45.7,345.0 51.1,345.0 56.5,345.0 61.9,345.0 67.3,345.0 72.7,345.0 78.1,345.0 83.5,345.0 88.9,345.0 94.3,345.0 99.7,345.0 105.1,345.0 110.5,345.0 115.9,345.0 121.3,345.0 126.7,345.0 132.1,345.0 137.5,345.0 142.9,345.0 148.3,345.0 153.7,345.0 159.1,345.0 164.5,345.0 169.9,344.9 175.3,344.8 180.7,344.5 186.1,343.9 191.5,343.0 196.9,342.1 202.3,342.0 207.7,342.6 213.1,343.5 218.5,344.2 223.9,344.7 229.3,344.9 234.7,345.0 240.1,345.0 245.5,345.0 250.9,345.0 256.3,345.0 261.7,345.0 267.1,345.0 272.5,345.0 277.9,345.0 283.3,345.0 288.7,345.0 294.1,345.0 299.5,345.0 304.9,345.0 310.3,345.0 315.7,344.8 321.1,344.3 326.5,343.3 331.9,343.1 337.3,343.9 342.7,344.5 348.1,344.4 353.5,344.0 358.9,343.4 364.3,342.9 369.7,342.7 375.1,342.8 380.5,343.2 385.9,343.8 391.3,344.2 396.7,344.4 402.1,344.4 407.5,344.2 412.9,343.8 418.3,343.3 423.7,342.9 429.1,342.6 434.5,342.5 439.9,342.4 445.3,342.3 450.7,342.9 456.1,343.8 461.5,344.5 466.9,344.7 472.3,344.6 477.7,344.2 483.1,343.6 488.5,343.1 493.9,342.8 499.3,342.9 504.7,343.3 510.1,343.7 515.5,343.9 520.9,343.8 526.3,343.3 531.7,342.1 537.1,339.1 542.5,333.0 547.9,322.1 553.3,306.2 558.7,288.3 564.1,273.6 569.5,267.9 574.9,273.6 580.3,288.5 585.7,306.6 591.1,322.7 596.5,333.9 601.9,340.3 607.3,343.3 612.7,344.5 618.1,344.9 623.5,345.0 628.9,345.0 634.3,345.0 639.7,345.0 645.1,345.0 650.5,345.0 655.9,345.0 661.3,345.0 666.7,345.0 668.0,345.0" fill="none" stroke="#f77b1c" stroke-width="1.7" stroke-linejoin="round" />
<polyline points="45.0,345.0 45.2,345.0 50.6,345.0 56.0,345.0 61.4,345.0 66.8,345.0 72.2,345.0 77.6,345.0 83.0,345.0 88.4,345.0 93.8,344.9 99.2,344.7 104.6,344.5 110.0,344.3 115.4,344.2 120.8,344.4 126.2,344.6 131.6,344.8 137.0,344.9 142.4,345.0 147.8,345.0 153.2,345.0 158.6,345.0 164.0,345.0 169.4,344.9 174.8,344.6 180.2,344.1 185.6,343.4 191.0,342.6 196.4,342.1 201.8,342.1 207.2,342.7 212.6,343.5 218.0,344.1 223.4,344.4 228.8,344.4 234.2,344.3 239.6,344.4 245.0,344.5 250.4,344.8 255.8,344.9 261.2,345.0 266.6,345.0 272.0,345.0 277.4,345.0 282.8,345.0 288.2,345.0 293.6,345.0 299.0,345.0 304.4,344.9 309.8,344.6 315.2,344.0 320.6,343.2 326.0,342.4 331.4,342.0 336.8,342.2 342.2,342.5 347.6,341.9 353.0,339.5 358.4,335.1 363.8,330.8 369.2,329.7 374.6,332.6 380.0,337.5 385.4,341.6 390.8,343.7 396.2,344.2 401.6,343.8 407.0,343.2 412.4,343.2 417.8,343.6 423.2,344.2 428.6,344.6 434.0,344.8 439.4,345.0 444.8,345.0 450.2,345.0 455.6,345.0 461.0,345.0 466.4,344.9 471.8,344.5 477.2,343.3 482.6,341.0 488.0,338.4 493.4,337.3 498.8,338.7 504.2,341.4 509.6,343.6 515.0,344.6 520.4,344.9 525.8,345.0 531.2,344.9 536.6,344.6 542.0,343.7 547.4,341.9 552.8,340.2 558.2,339.7 563.6,340.9 569.0,342.8 574.4,344.1 579.8,344.6 585.2,344.3 590.6,343.4 596.0,342.3 601.4,340.6 606.8,336.3 612.2,326.8 617.6,311.0 623.0,291.4 628.4,274.6 633.8,267.9 639.2,274.6 644.6,291.4 650.0,311.0 655.4,327.0 660.8,337.1 666.2,342.1 668.0,343.0" fill="none" stroke="#6c9fd5" stroke-width="1.7" stroke-linejoin="round" />
<line x1="44.20" y1="345.00" x2="600.00" y2="345.00" stroke="#44648f" stroke-width="1.1" />
<line x1="600.00" y1="345.00" x2="669.00" y2="345.00" stroke="#b4683c" stroke-width="1.1" />
<line x1="44.20" y1="267.90" x2="669.00" y2="267.90" stroke="#1a1a1a" stroke-width="1.5" />
<line x1="44.20" y1="267.20" x2="44.20" y2="345.50" stroke="#000" stroke-width="1.8" />
<line x1="669.00" y1="267.20" x2="669.00" y2="345.50" stroke="#000" stroke-width="1.9" />
<line x1="44.20" y1="306.45" x2="48.70" y2="306.45" stroke="#000" stroke-width="1" />
<text x="36.60" y="272.00" font-size="10" text-anchor="middle" >1</text>
<text x="36.70" y="351.80" font-size="10" text-anchor="middle" >0</text>
<text x="656.60" y="265.60" font-size="10" text-anchor="end" >@1565nm</text>
<text x="78.58" y="357.30" font-size="10" text-anchor="middle" >-31</text>
<text x="141.37" y="357.30" font-size="10" text-anchor="middle" >-24</text>
<text x="195.19" y="357.30" font-size="10" text-anchor="middle" >-18</text>
<text x="249.01" y="357.30" font-size="10" text-anchor="middle" >-12</text>
<text x="302.83" y="357.30" font-size="10" text-anchor="middle" >-6</text>
<text x="356.65" y="357.30" font-size="10" text-anchor="middle" >0</text>
<text x="410.47" y="357.30" font-size="10" text-anchor="middle" >6</text>
<text x="464.29" y="357.30" font-size="10" text-anchor="middle" >12</text>
<text x="518.11" y="357.30" font-size="10" text-anchor="middle" >18</text>
<text x="571.93" y="357.30" font-size="10" text-anchor="middle" >24</text>
<text x="634.72" y="357.30" font-size="10" text-anchor="middle" >31</text>
<text x="363.30" y="365.00" font-size="10" font-style="italic" >θ (°)</text>
<text x="25.00" y="212.50" font-size="10" text-anchor="middle" transform="rotate(-90 25.00 212.50)" >Normalized Intensity (arb.units)</text>
<text x="-0.20" y="376.60" font-size="10" font-weight="bold" >c</text>
<rect x="56.60" y="376.20" width="82.50" height="75.50" fill="#000" />
<ellipse cx="87.3" cy="412.4" rx="1.5" ry="0.6" fill="#888" opacity="0.35" filter="url(#bl)"/>
<ellipse cx="108.3" cy="413.5" rx="1.6" ry="0.6" fill="#888" opacity="0.3" filter="url(#bl)"/>
<ellipse cx="115.8" cy="413.5" rx="1.4" ry="0.6" fill="#888" opacity="0.3" filter="url(#bl)"/>
<ellipse cx="78.6" cy="412.0" rx="1.2" ry="0.5" fill="#888" opacity="0.2" filter="url(#bl)"/>
<ellipse cx="67.4" cy="402.5" rx="1.5" ry="0.6" fill="#888" opacity="0.2" filter="url(#bl)"/>
<ellipse cx="113.3" cy="406.6" rx="1.5" ry="0.6" fill="#888" opacity="0.2" filter="url(#bl)"/>
<ellipse cx="125.0" cy="412.5" rx="1.2" ry="0.5" fill="#888" opacity="0.15" filter="url(#bl)"/>
<ellipse cx="97.4" cy="413.5" rx="5.2" ry="1.4" fill="#aaa" filter="url(#bl)"/>
<ellipse cx="97.4" cy="413.5" rx="3.0" ry="0.9" fill="#fff" filter="url(#bl)"/>
<path d="M108.1,446.7 L108.1,435" stroke="#f4f4f4" stroke-width="1.5" fill="none"/>
<path d="M104.2,436 L108.1,428.6 L112,436 Z" fill="#f4f4f4"/>
<path d="M107.4,446.7 L118.5,446.7" stroke="#f4f4f4" stroke-width="1.5" fill="none"/>
<path d="M117.7,442.9 L125.1,446.7 L117.7,450.6 Z" fill="#f4f4f4"/>
<text x="111.60" y="433.60" font-size="10" fill="#fff" font-style="italic" >φ</text>
<text x="127.00" y="447.50" font-size="10" fill="#fff" font-style="italic" >θ</text>
<polyline points="150.0,477.0 186.4,477.0 190.0,475.5 194.3,472.2 197.8,463.0 199.5,448.0 201.3,426.3 203.0,405.0 204.8,389.5 206.5,378.0 208.0,373.9 209.5,375.5 211.0,382.5 213.6,414.0 215.5,440.0 217.1,457.9 220.6,474.5 223.2,476.8 300.0,477.0" fill="none" stroke="#f3c12f" stroke-width="1.1" stroke-linejoin="round" />
<polyline points="45.5,474.2 52.0,473.5 58.0,472.6 61.0,472.0 63.5,474.3 68.0,476.0 74.0,476.9 128.0,476.9 140.0,476.0 147.0,474.8 155.0,471.4 160.0,464.0 165.5,451.7 170.0,432.0 173.4,418.9 177.7,405.3 180.0,393.0 183.8,373.9 185.9,389.5 189.0,405.0 191.7,415.8 194.3,438.6 197.8,456.0 201.3,476.6 203.0,477.0 207.0,475.5 211.8,474.8 222.3,474.0 238.0,474.5 248.0,472.8 254.8,471.2 262.0,473.0 275.0,475.8 290.0,476.9 349.0,476.9" fill="none" stroke="#4d7fe3" stroke-width="1.1" stroke-linejoin="round" />
<rect x="45.5" y="373.5" width="304.5" height="103.39999999999998" fill="none" stroke="#555" stroke-width="1.4"/>
<line x1="45.50" y1="425.20" x2="48.50" y2="425.20" stroke="#333" stroke-width="0.9" />
<line x1="73.40" y1="476.90" x2="73.40" y2="473.90" stroke="#333" stroke-width="0.9" />
<line x1="101.10" y1="476.90" x2="101.10" y2="473.90" stroke="#333" stroke-width="0.9" />
<line x1="128.80" y1="476.90" x2="128.80" y2="473.90" stroke="#333" stroke-width="0.9" />
<line x1="156.50" y1="476.90" x2="156.50" y2="473.90" stroke="#333" stroke-width="0.9" />
<line x1="184.20" y1="476.90" x2="184.20" y2="473.90" stroke="#333" stroke-width="0.9" />
<line x1="211.90" y1="476.90" x2="211.90" y2="473.90" stroke="#333" stroke-width="0.9" />
<line x1="239.60" y1="476.90" x2="239.60" y2="473.90" stroke="#333" stroke-width="0.9" />
<line x1="267.30" y1="476.90" x2="267.30" y2="473.90" stroke="#333" stroke-width="0.9" />
<line x1="295.00" y1="476.90" x2="295.00" y2="473.90" stroke="#333" stroke-width="0.9" />
<line x1="322.70" y1="476.90" x2="322.70" y2="473.90" stroke="#333" stroke-width="0.9" />
<text x="36.30" y="377.00" font-size="10" text-anchor="middle" >1</text>
<text x="36.60" y="476.20" font-size="10" text-anchor="middle" >0</text>
<text x="43.50" y="486.60" font-size="10" text-anchor="middle" >-20</text>
<text x="119.60" y="486.60" font-size="10" text-anchor="middle" >-10</text>
<text x="198.10" y="486.60" font-size="10" text-anchor="middle" >0</text>
<text x="272.20" y="486.60" font-size="10" text-anchor="middle" >10</text>
<text x="347.60" y="486.60" font-size="10" text-anchor="middle" >20</text>
<text x="200.20" y="497.50" font-size="10" text-anchor="middle" >Angle (°)</text>
<line x1="275.50" y1="401.70" x2="295.70" y2="401.70" stroke="#6d95f0" stroke-width="1.3" />
<line x1="275.50" y1="413.70" x2="295.70" y2="413.70" stroke="#f6d262" stroke-width="1.3" />
<text x="298.90" y="406.00" font-size="10" font-style="italic" >θ</text>
<text x="298.90" y="416.30" font-size="10" font-style="italic" >φ</text>
<text x="22.20" y="425.00" font-size="10" text-anchor="middle" transform="rotate(-90 22.20 425.00)" >Normalized Intensity</text>
<text x="30.20" y="424.60" font-size="10" text-anchor="middle" transform="rotate(-90 30.20 424.60)" >(arb.units)</text>
<text x="355.80" y="379.00" font-size="10" font-weight="bold" >d</text>
<line x1="403.40" y1="372.90" x2="403.40" y2="476.70" stroke="#c4c4c4" stroke-width="0.7" stroke-dasharray="2.5,1.5"/>
<line x1="417.65" y1="372.90" x2="417.65" y2="476.70" stroke="#dedede" stroke-width="0.6" stroke-dasharray="1,1.5"/>
<line x1="417.65" y1="476.70" x2="417.65" y2="474.70" stroke="#333" stroke-width="0.8" />
<line x1="403.40" y1="476.70" x2="403.40" y2="473.20" stroke="#333" stroke-width="0.9" />
<line x1="431.90" y1="372.90" x2="431.90" y2="476.70" stroke="#c4c4c4" stroke-width="0.7" stroke-dasharray="2.5,1.5"/>
<line x1="444.30" y1="372.90" x2="444.30" y2="476.70" stroke="#dedede" stroke-width="0.6" stroke-dasharray="1,1.5"/>
<line x1="444.30" y1="476.70" x2="444.30" y2="474.70" stroke="#333" stroke-width="0.8" />
<line x1="431.90" y1="476.70" x2="431.90" y2="473.20" stroke="#333" stroke-width="0.9" />
<line x1="456.70" y1="372.90" x2="456.70" y2="476.70" stroke="#c4c4c4" stroke-width="0.7" stroke-dasharray="2.5,1.5"/>
<line x1="469.10" y1="372.90" x2="469.10" y2="476.70" stroke="#dedede" stroke-width="0.6" stroke-dasharray="1,1.5"/>
<line x1="469.10" y1="476.70" x2="469.10" y2="474.70" stroke="#333" stroke-width="0.8" />
<line x1="456.70" y1="476.70" x2="456.70" y2="473.20" stroke="#333" stroke-width="0.9" />
<line x1="481.50" y1="372.90" x2="481.50" y2="476.70" stroke="#c4c4c4" stroke-width="0.7" stroke-dasharray="2.5,1.5"/>
<line x1="493.70" y1="372.90" x2="493.70" y2="476.70" stroke="#dedede" stroke-width="0.6" stroke-dasharray="1,1.5"/>
<line x1="493.70" y1="476.70" x2="493.70" y2="474.70" stroke="#333" stroke-width="0.8" />
<line x1="481.50" y1="476.70" x2="481.50" y2="473.20" stroke="#333" stroke-width="0.9" />
<line x1="505.90" y1="372.90" x2="505.90" y2="476.70" stroke="#c4c4c4" stroke-width="0.7" stroke-dasharray="2.5,1.5"/>
<line x1="517.95" y1="372.90" x2="517.95" y2="476.70" stroke="#dedede" stroke-width="0.6" stroke-dasharray="1,1.5"/>
<line x1="517.95" y1="476.70" x2="517.95" y2="474.70" stroke="#333" stroke-width="0.8" />
<line x1="505.90" y1="476.70" x2="505.90" y2="473.20" stroke="#333" stroke-width="0.9" />
<line x1="530.00" y1="372.90" x2="530.00" y2="476.70" stroke="#c4c4c4" stroke-width="0.7" stroke-dasharray="2.5,1.5"/>
<line x1="542.10" y1="372.90" x2="542.10" y2="476.70" stroke="#dedede" stroke-width="0.6" stroke-dasharray="1,1.5"/>
<line x1="542.10" y1="476.70" x2="542.10" y2="474.70" stroke="#333" stroke-width="0.8" />
<line x1="530.00" y1="476.70" x2="530.00" y2="473.20" stroke="#333" stroke-width="0.9" />
<line x1="554.20" y1="372.90" x2="554.20" y2="476.70" stroke="#c4c4c4" stroke-width="0.7" stroke-dasharray="2.5,1.5"/>
<line x1="566.60" y1="372.90" x2="566.60" y2="476.70" stroke="#dedede" stroke-width="0.6" stroke-dasharray="1,1.5"/>
<line x1="566.60" y1="476.70" x2="566.60" y2="474.70" stroke="#333" stroke-width="0.8" />
<line x1="554.20" y1="476.70" x2="554.20" y2="473.20" stroke="#333" stroke-width="0.9" />
<line x1="579.00" y1="372.90" x2="579.00" y2="476.70" stroke="#c4c4c4" stroke-width="0.7" stroke-dasharray="2.5,1.5"/>
<line x1="591.05" y1="372.90" x2="591.05" y2="476.70" stroke="#dedede" stroke-width="0.6" stroke-dasharray="1,1.5"/>
<line x1="591.05" y1="476.70" x2="591.05" y2="474.70" stroke="#333" stroke-width="0.8" />
<line x1="579.00" y1="476.70" x2="579.00" y2="473.20" stroke="#333" stroke-width="0.9" />
<line x1="603.10" y1="372.90" x2="603.10" y2="476.70" stroke="#c4c4c4" stroke-width="0.7" stroke-dasharray="2.5,1.5"/>
<line x1="615.50" y1="372.90" x2="615.50" y2="476.70" stroke="#dedede" stroke-width="0.6" stroke-dasharray="1,1.5"/>
<line x1="615.50" y1="476.70" x2="615.50" y2="474.70" stroke="#333" stroke-width="0.8" />
<line x1="603.10" y1="476.70" x2="603.10" y2="473.20" stroke="#333" stroke-width="0.9" />
<line x1="627.90" y1="372.90" x2="627.90" y2="476.70" stroke="#c4c4c4" stroke-width="0.7" stroke-dasharray="2.5,1.5"/>
<line x1="642.20" y1="372.90" x2="642.20" y2="476.70" stroke="#dedede" stroke-width="0.6" stroke-dasharray="1,1.5"/>
<line x1="642.20" y1="476.70" x2="642.20" y2="474.70" stroke="#333" stroke-width="0.8" />
<line x1="627.90" y1="476.70" x2="627.90" y2="473.20" stroke="#333" stroke-width="0.9" />
<line x1="656.50" y1="372.90" x2="656.50" y2="476.70" stroke="#c4c4c4" stroke-width="0.7" stroke-dasharray="2.5,1.5"/>
<line x1="656.50" y1="476.70" x2="656.50" y2="473.20" stroke="#333" stroke-width="0.9" />
<line x1="387.40" y1="386.50" x2="672.60" y2="386.50" stroke="#c4c4c4" stroke-width="0.7" stroke-dasharray="2.5,1.5"/>
<line x1="387.40" y1="386.50" x2="391.40" y2="386.50" stroke="#333" stroke-width="0.9" />
<line x1="387.40" y1="414.36" x2="672.60" y2="414.36" stroke="#c4c4c4" stroke-width="0.7" stroke-dasharray="2.5,1.5"/>
<line x1="387.40" y1="414.36" x2="391.40" y2="414.36" stroke="#333" stroke-width="0.9" />
<line x1="387.40" y1="442.22" x2="672.60" y2="442.22" stroke="#c4c4c4" stroke-width="0.7" stroke-dasharray="2.5,1.5"/>
<line x1="387.40" y1="442.22" x2="391.40" y2="442.22" stroke="#333" stroke-width="0.9" />
<line x1="387.40" y1="470.08" x2="672.60" y2="470.08" stroke="#c4c4c4" stroke-width="0.7" stroke-dasharray="2.5,1.5"/>
<line x1="387.40" y1="470.08" x2="391.40" y2="470.08" stroke="#333" stroke-width="0.9" />
<line x1="387.40" y1="400.43" x2="672.60" y2="400.43" stroke="#dedede" stroke-width="0.6" stroke-dasharray="1,1.5"/>
<line x1="387.40" y1="400.43" x2="389.40" y2="400.43" stroke="#333" stroke-width="0.8" />
<line x1="387.40" y1="428.29" x2="672.60" y2="428.29" stroke="#dedede" stroke-width="0.6" stroke-dasharray="1,1.5"/>
<line x1="387.40" y1="428.29" x2="389.40" y2="428.29" stroke="#333" stroke-width="0.8" />
<line x1="387.40" y1="456.15" x2="672.60" y2="456.15" stroke="#dedede" stroke-width="0.6" stroke-dasharray="1,1.5"/>
<line x1="387.40" y1="456.15" x2="389.40" y2="456.15" stroke="#333" stroke-width="0.8" />
<rect x="387.4" y="372.9" width="285.20000000000005" height="103.80000000000001" fill="none" stroke="#555" stroke-width="1.4"/>
<rect x="400.90" y="418.73" width="5.00" height="3.80" fill="#f00000" />
<rect x="429.40" y="414.41" width="5.00" height="3.80" fill="#f00000" />
<rect x="454.20" y="391.56" width="5.00" height="3.80" fill="#f00000" />
<rect x="479.00" y="390.31" width="5.00" height="3.80" fill="#f00000" />
<rect x="503.40" y="380.84" width="5.00" height="3.80" fill="#f00000" />
<rect x="527.50" y="433.36" width="5.00" height="3.80" fill="#f00000" />
<rect x="551.70" y="462.19" width="5.00" height="3.80" fill="#f00000" />
<rect x="576.50" y="451.46" width="5.00" height="3.80" fill="#f00000" />
<rect x="600.60" y="441.02" width="5.00" height="3.80" fill="#f00000" />
<rect x="625.40" y="422.91" width="5.00" height="3.80" fill="#f00000" />
<rect x="654.00" y="420.82" width="5.00" height="3.80" fill="#f00000" />
<text x="385.30" y="389.30" font-size="10" text-anchor="end" >-8</text>
<text x="385.30" y="417.80" font-size="10" text-anchor="end" >-10</text>
<text x="385.30" y="445.60" font-size="10" text-anchor="end" >-12</text>
<text x="385.30" y="473.00" font-size="10" text-anchor="end" >-14</text>
<text x="402.90" y="488.80" font-size="10" text-anchor="middle" >-31</text>
<text x="431.40" y="488.80" font-size="10" text-anchor="middle" >-24</text>
<text x="456.20" y="488.80" font-size="10" text-anchor="middle" >-18</text>
<text x="481.00" y="488.80" font-size="10" text-anchor="middle" >-12</text>
<text x="505.40" y="488.80" font-size="10" text-anchor="middle" >-6</text>
<text x="529.50" y="488.80" font-size="10" text-anchor="middle" >0</text>
<text x="553.70" y="488.80" font-size="10" text-anchor="middle" >6</text>
<text x="578.50" y="488.80" font-size="10" text-anchor="middle" >12</text>
<text x="602.60" y="488.80" font-size="10" text-anchor="middle" >18</text>
<text x="627.40" y="488.80" font-size="10" text-anchor="middle" >24</text>
<text x="656.00" y="488.80" font-size="10" text-anchor="middle" >31</text>
<text x="520.00" y="497.50" font-size="10" font-style="italic" >θ (°)</text>
<text x="365.70" y="426.90" font-size="10" text-anchor="middle" transform="rotate(-90 365.70 426.90)" >SLSR (dB)</text>
<rect x="398.4" y="443.9" width="52.1" height="11.7" fill="#fff" stroke="#777" stroke-width="0.8"/>
<rect x="409.30" y="448.00" width="4.60" height="3.60" fill="#f00000" />
<text x="419.00" y="453.30" font-size="10" >SLSR</text>
<text x="0.30" y="511.00" font-size="10" font-weight="bold" >e</text>
<text x="-0.40" y="564.80" font-size="10" font-weight="bold" >h</text>
<text x="358.00" y="511.00" font-size="10" font-weight="bold" >f</text>
<rect x="13.10" y="509.20" width="66.90" height="44.40" fill="#000" />
<rect x="13.10" y="558.00" width="66.90" height="45.00" fill="#000" />
<text x="47.65" y="550.80" font-size="10" text-anchor="middle" fill="#fff" >1500nm</text>
<text x="50.00" y="602.20" font-size="10" text-anchor="middle" fill="#fff" >-20°</text>
<ellipse cx="51.8" cy="532.0" rx="1.1" ry="0.9" fill="#eee" filter="url(#bl)"/>
<rect x="81.40" y="509.20" width="66.50" height="44.40" fill="#000" />
<rect x="81.40" y="558.00" width="66.50" height="45.00" fill="#000" />
<text x="118.40" y="550.80" font-size="10" text-anchor="middle" fill="#fff" >1530nm</text>
<text x="116.70" y="602.20" font-size="10" text-anchor="middle" fill="#fff" >-10°</text>
<ellipse cx="115.6" cy="531.5" rx="1.1" ry="0.9" fill="#eee" filter="url(#bl)"/>
<rect x="149.50" y="509.20" width="66.60" height="44.40" fill="#000" />
<rect x="149.50" y="558.00" width="66.60" height="45.00" fill="#000" />
<text x="184.90" y="550.80" font-size="10" text-anchor="middle" fill="#fff" >1560nm</text>
<text x="188.50" y="602.20" font-size="10" text-anchor="middle" fill="#fff" >0°</text>
<ellipse cx="183.0" cy="531.2" rx="1.1" ry="0.9" fill="#eee" filter="url(#bl)"/>
<rect x="217.80" y="509.20" width="65.80" height="44.40" fill="#000" />
<rect x="217.80" y="558.00" width="65.80" height="45.00" fill="#000" />
<text x="254.70" y="550.80" font-size="10" text-anchor="middle" fill="#fff" >1590nm</text>
<text x="258.70" y="602.20" font-size="10" text-anchor="middle" fill="#fff" >10°</text>
<ellipse cx="249.1" cy="531.2" rx="1.1" ry="0.9" fill="#eee" filter="url(#bl)"/>
<rect x="285.60" y="509.20" width="67.20" height="44.40" fill="#000" />
<rect x="285.60" y="558.00" width="67.20" height="45.00" fill="#000" />
<text x="321.50" y="550.80" font-size="10" text-anchor="middle" fill="#fff" >1620nm</text>
<text x="325.80" y="602.20" font-size="10" text-anchor="middle" fill="#fff" >20°</text>
<ellipse cx="315.3" cy="531.9" rx="1.1" ry="0.9" fill="#eee" filter="url(#bl)"/>
<ellipse cx="46.8" cy="579.7" rx="1.2" ry="0.8" fill="#fff" opacity="0.8" filter="url(#bl)"/>
<ellipse cx="54.4" cy="579.9" rx="1.8" ry="0.5" fill="#fff" opacity="0.4" filter="url(#bl)"/>
<ellipse cx="49.7" cy="585.5" rx="1.6" ry="0.8" fill="#fff" filter="url(#bl)"/>
<ellipse cx="66.7" cy="579.5" rx="0.8" ry="0.5" fill="#fff" opacity="0.4" filter="url(#bl)"/>
<ellipse cx="116.9" cy="578.8" rx="1.6" ry="0.8" fill="#fff" filter="url(#bl)"/>
<ellipse cx="117.4" cy="584.6" rx="1.6" ry="0.8" fill="#fff" filter="url(#bl)"/>
<ellipse cx="110.4" cy="584.8" rx="1.2" ry="0.5" fill="#fff" opacity="0.5" filter="url(#bl)"/>
<ellipse cx="125.0" cy="579.0" rx="0.8" ry="0.5" fill="#fff" opacity="0.3" filter="url(#bl)"/>
<ellipse cx="185.3" cy="577.9" rx="1.6" ry="0.8" fill="#fff" filter="url(#bl)"/>
<ellipse cx="186.0" cy="582.9" rx="1.8" ry="0.9" fill="#fff" filter="url(#bl)"/>
<ellipse cx="156.1" cy="580.6" rx="1.2" ry="0.5" fill="#fff" opacity="0.5" filter="url(#bl)"/>
<ellipse cx="165.2" cy="579.0" rx="1.0" ry="0.5" fill="#fff" opacity="0.4" filter="url(#bl)"/>
<ellipse cx="207.0" cy="578.5" rx="1" ry="0.5" fill="#fff" opacity="0.4" filter="url(#bl)"/>
<ellipse cx="176.0" cy="579.0" rx="1" ry="0.5" fill="#fff" opacity="0.4" filter="url(#bl)"/>
<ellipse cx="255.8" cy="578.3" rx="1.6" ry="0.7" fill="#fff" filter="url(#bl)"/>
<ellipse cx="255.2" cy="583.6" rx="1.8" ry="0.9" fill="#fff" filter="url(#bl)"/>
<ellipse cx="267.0" cy="579.0" rx="1.2" ry="0.5" fill="#fff" opacity="0.5" filter="url(#bl)"/>
<ellipse cx="276.0" cy="578.6" rx="1.2" ry="0.6" fill="#fff" opacity="0.6" filter="url(#bl)"/>
<ellipse cx="328.0" cy="579.6" rx="1.6" ry="0.8" fill="#fff" opacity="0.9" filter="url(#bl)"/>
<ellipse cx="324.0" cy="584.9" rx="1.3" ry="0.7" fill="#fff" opacity="0.9" filter="url(#bl)"/>
<ellipse cx="310.0" cy="586.0" rx="0.8" ry="0.4" fill="#fff" opacity="0.3" filter="url(#bl)"/>
<text x="1.30" y="619.00" font-size="10" font-weight="bold" >i</text>
<text x="146.30" y="617.00" font-size="10" font-weight="bold" >j</text>
<rect x="52.30" y="622.80" width="62.80" height="52.70" fill="#000" />
<ellipse cx="73.2" cy="636.6" rx="1.4" ry="1.3" fill="#eee" filter="url(#bl)"/>
<ellipse cx="78.6" cy="636.8" rx="1.1" ry="1.0" fill="#bbb" filter="url(#bl)"/>
<ellipse cx="83.6" cy="636.6" rx="1.8" ry="1.2" fill="#ccc" filter="url(#bl)"/>
<ellipse cx="89.9" cy="636.2" rx="1.8" ry="1.2" fill="#bbb" filter="url(#bl)"/>
<ellipse cx="73.0" cy="645.8" rx="1.5" ry="1.1" fill="#ddd" filter="url(#bl)"/>
<ellipse cx="78.4" cy="646.0" rx="1.3" ry="1.0" fill="#aaa" filter="url(#bl)"/>
<ellipse cx="83.6" cy="645.9" rx="1.8" ry="1.3" fill="#eee" filter="url(#bl)"/>
<ellipse cx="89.9" cy="645.6" rx="1.9" ry="1.1" fill="#ccc" filter="url(#bl)"/>
<ellipse cx="73.2" cy="655.5" rx="1.6" ry="1.0" fill="#ccc" filter="url(#bl)"/>
<ellipse cx="78.4" cy="655.6" rx="0.9" ry="1.2" fill="#bbb" filter="url(#bl)"/>
<ellipse cx="83.4" cy="655.4" rx="1.8" ry="1.3" fill="#ddd" filter="url(#bl)"/>
<ellipse cx="90.0" cy="655.4" rx="1.8" ry="1.3" fill="#ccc" filter="url(#bl)"/>
<ellipse cx="73.0" cy="663.9" rx="1.5" ry="1.0" fill="#aaa" filter="url(#bl)"/>
<ellipse cx="77.9" cy="663.9" rx="1.2" ry="1.2" fill="#bbb" filter="url(#bl)"/>
<ellipse cx="83.6" cy="663.8" rx="2.5" ry="1.5" fill="#ddd" filter="url(#bl)"/>
<ellipse cx="90.3" cy="663.6" rx="2.6" ry="1.3" fill="#ccc" filter="url(#bl)"/>
<line x1="52.30" y1="675.50" x2="52.30" y2="611.00" stroke="#000" stroke-width="1" />
<path d="M49.9,612 L52.3,606.5 L54.7,612 Z" fill="#000"/>
<line x1="52.30" y1="675.50" x2="133.00" y2="675.50" stroke="#000" stroke-width="1" />
<path d="M132.5,673.1 L138,675.5 L132.5,677.9 Z" fill="#000"/>
<line x1="49.10" y1="636.80" x2="52.30" y2="636.80" stroke="#000" stroke-width="1" />
<line x1="49.10" y1="650.50" x2="52.30" y2="650.50" stroke="#000" stroke-width="1" />
<line x1="49.10" y1="664.40" x2="52.30" y2="664.40" stroke="#000" stroke-width="1" />
<text x="39.10" y="641.80" font-size="10" text-anchor="middle" >-20</text>
<text x="41.50" y="655.40" font-size="10" text-anchor="middle" >0</text>
<text x="41.25" y="669.70" font-size="10" text-anchor="middle" >20</text>
<line x1="62.20" y1="675.50" x2="62.20" y2="678.20" stroke="#000" stroke-width="1" />
<line x1="72.00" y1="675.50" x2="72.00" y2="678.20" stroke="#000" stroke-width="1" />
<line x1="81.50" y1="675.50" x2="81.50" y2="678.20" stroke="#000" stroke-width="1" />
<line x1="91.40" y1="675.50" x2="91.40" y2="678.20" stroke="#000" stroke-width="1" />
<line x1="100.50" y1="675.50" x2="100.50" y2="678.20" stroke="#000" stroke-width="1" />
<text x="55.40" y="688.30" font-size="10" text-anchor="middle" >-10</text>
<text x="70.20" y="688.30" font-size="10" text-anchor="middle" >-5</text>
<text x="81.70" y="688.30" font-size="10" text-anchor="middle" >0</text>
<text x="91.15" y="688.30" font-size="10" text-anchor="middle" >5</text>
<text x="102.80" y="688.30" font-size="10" text-anchor="middle" >10</text>
<text x="78.60" y="696.50" font-size="10" text-anchor="middle" font-style="italic" >φ (°)</text>
<text x="28.00" y="655.30" font-size="10" text-anchor="middle" font-style="italic" transform="rotate(-90 28.00 655.30)" >θ (°)</text>
<rect x="158.30" y="622.90" width="194.30" height="52.00" fill="#000" />
<path d="M173.8,629.2 H187.2 V655.7 H206.8 V663.4 H173.8 Z" stroke="#3a68d0" stroke-width="1.1" stroke-dasharray="1,1" fill="none"/>
<path d="M239.2,630.8 H269.1 V639.5 L251.7,656.3 H269.1 V665.7 H239.2 V656.5 L258.8,638.5 H239.2 Z" stroke="#3a68d0" stroke-width="1.1" stroke-dasharray="1,1" fill="none"/>
<path d="M304.7,631.5 H314.5 V653.5 Q314.5,655.7 317,655.7 H321.7 Q324.2,655.7 324.2,653.5 V631.5 H334.2 V654 Q334.2,667.5 319.5,667.5 Q304.7,667.5 304.7,654 Z" stroke="#3a68d0" stroke-width="1.1" stroke-dasharray="1,1" fill="none"/>
<ellipse cx="180.3" cy="635.2" rx="1.3" ry="1.0" fill="#ddd" filter="url(#bl)"/>
<ellipse cx="180.1" cy="643.4" rx="1.3" ry="1.0" fill="#ccc" filter="url(#bl)"/>
<ellipse cx="180.1" cy="652.2" rx="1.3" ry="0.9" fill="#ccc" filter="url(#bl)"/>
<ellipse cx="180.1" cy="660.2" rx="1.1" ry="0.8" fill="#999" filter="url(#bl)"/>
<ellipse cx="185.6" cy="660.2" rx="1.1" ry="0.9" fill="#aaa" filter="url(#bl)"/>
<ellipse cx="191.5" cy="659.8" rx="1.8" ry="1.2" fill="#ddd" filter="url(#bl)"/>
<ellipse cx="198.7" cy="659.8" rx="1.9" ry="1.1" fill="#ccc" filter="url(#bl)"/>
<ellipse cx="244.5" cy="634.8" rx="1.1" ry="0.9" fill="#ccc" filter="url(#bl)"/>
<ellipse cx="250.1" cy="634.8" rx="1.0" ry="0.9" fill="#aaa" filter="url(#bl)"/>
<ellipse cx="256.5" cy="634.8" rx="1.4" ry="1.0" fill="#bbb" filter="url(#bl)"/>
<ellipse cx="263.0" cy="634.3" rx="1.5" ry="1.0" fill="#bbb" filter="url(#bl)"/>
<ellipse cx="257.3" cy="643.7" rx="1.6" ry="1.2" fill="#ddd" filter="url(#bl)"/>
<ellipse cx="250.1" cy="652.2" rx="1.1" ry="1.0" fill="#aaa" filter="url(#bl)"/>
<ellipse cx="244.5" cy="660.2" rx="1.1" ry="0.8" fill="#999" filter="url(#bl)"/>
<ellipse cx="250.1" cy="660.0" rx="1.1" ry="0.9" fill="#aaa" filter="url(#bl)"/>
<ellipse cx="256.2" cy="659.8" rx="1.9" ry="1.2" fill="#ddd" filter="url(#bl)"/>
<ellipse cx="263.3" cy="659.6" rx="1.9" ry="1.1" fill="#ccc" filter="url(#bl)"/>
<ellipse cx="310.0" cy="635.1" rx="1.6" ry="1.1" fill="#ddd" filter="url(#bl)"/>
<ellipse cx="329.4" cy="635.1" rx="1.8" ry="1.1" fill="#ccc" filter="url(#bl)"/>
<ellipse cx="309.3" cy="643.5" rx="1.6" ry="1.1" fill="#ddd" filter="url(#bl)"/>
<ellipse cx="329.1" cy="643.5" rx="1.7" ry="1.1" fill="#ddd" filter="url(#bl)"/>
<ellipse cx="309.7" cy="652.2" rx="1.7" ry="1.0" fill="#ccc" filter="url(#bl)"/>
<ellipse cx="329.4" cy="652.2" rx="1.8" ry="1.1" fill="#ccc" filter="url(#bl)"/>
<ellipse cx="315.0" cy="660.1" rx="1.3" ry="1.0" fill="#aaa" filter="url(#bl)"/>
<ellipse cx="321.5" cy="660.0" rx="2.4" ry="1.4" fill="#ddd" filter="url(#bl)"/>
<text x="255.00" y="696.50" font-size="10" text-anchor="middle" font-style="italic" >φ (°)</text>
<polyline points="389.5,674.0 405.0,673.9 411.7,673.4 414.5,671.5 417.0,668.0 420.0,660.0 423.0,645.6 425.5,632.0 427.5,617.5 428.7,602.0 430.5,585.0 432.0,558.0 433.2,535.0 434.2,517.2 435.3,523.0 436.8,543.0 438.0,556.0 439.5,583.0 441.3,612.0 442.5,634.0 443.8,652.0 445.0,664.0 446.3,671.5 448.0,673.9 518.0,674.0" fill="none" stroke="#bf98e8" stroke-width="0.95" stroke-linejoin="round" />
<polyline points="388.8,674.2 390.1,674.2 391.4,674.2 392.6,674.2 393.9,674.2 395.2,674.2 396.6,674.2 397.9,674.2 399.1,674.2 400.4,674.2 401.8,674.2 403.1,674.2 404.4,674.2 405.6,674.2 406.9,674.2 408.2,674.2 409.6,674.2 410.9,674.2 412.1,674.2 413.4,674.2 414.8,674.2 416.1,674.2 417.4,674.2 418.6,674.2 419.9,674.2 421.2,674.2 422.6,674.2 423.9,674.2 425.1,674.2 426.4,674.2 427.8,674.2 429.1,674.2 430.4,674.2 431.6,674.1 432.9,673.9 434.2,673.5 435.6,672.5 436.9,670.4 438.1,666.3 439.4,659.1 440.8,647.5 442.1,630.7 443.4,608.6 444.6,582.8 445.9,556.5 447.2,534.1 448.6,520.0 449.9,517.3 451.1,526.6 452.4,545.9 453.8,571.1 455.1,597.6 456.4,621.6 457.6,640.8 458.9,654.6 460.2,663.6 461.6,668.9 462.9,671.7 464.1,673.1 465.4,673.8 466.8,674.0 468.1,674.1 469.4,674.2 470.6,674.2 471.9,674.2 473.2,674.2 474.6,674.2 475.9,674.2 477.1,674.2 478.4,674.2 479.8,674.2 481.1,674.2 482.4,674.2 483.6,674.2 484.9,674.2 486.2,674.2 487.6,674.2 488.9,674.2 490.1,674.2 491.4,674.2 492.8,674.2 494.1,674.2 495.4,674.2 496.6,674.2 497.9,674.2 499.2,674.2 500.6,674.2 501.9,674.2 503.1,674.2 504.4,674.2 505.8,674.2 507.1,674.2 508.4,674.2 509.6,674.2 510.9,674.2 512.2,674.2 513.5,674.2 514.9,674.2 516.1,674.2 517.5,674.2" fill="none" stroke="#58be8e" stroke-width="0.95" stroke-linejoin="round" />
<polyline points="388.8,674.2 390.1,674.2 391.4,674.2 392.6,674.2 393.9,674.2 395.2,674.2 396.6,674.2 397.9,674.2 399.1,674.2 400.4,674.2 401.8,674.2 403.1,674.2 404.4,674.2 405.6,674.2 406.9,674.2 408.2,674.2 409.6,674.2 410.9,674.2 412.1,674.2 413.4,674.2 414.8,674.2 416.1,674.2 417.4,674.2 418.6,674.2 419.9,674.2 421.2,674.2 422.6,674.2 423.9,674.2 425.1,674.2 426.4,674.2 427.8,674.2 429.1,674.2 430.4,674.2 431.6,674.1 432.9,674.1 434.2,674.0 435.6,673.8 436.9,673.5 438.1,673.1 439.4,672.5 440.8,671.9 442.1,671.2 443.4,670.5 444.6,669.9 445.9,669.4 447.2,669.1 448.6,668.7 449.9,667.7 451.1,665.6 452.4,661.1 453.8,653.0 455.1,640.0 456.4,621.5 457.6,598.0 458.9,571.8 460.2,546.6 461.6,527.1 462.9,517.4 464.1,519.6 465.4,533.3 466.8,555.5 468.1,581.8 469.4,607.6 470.6,629.9 471.9,646.9 473.2,658.7 474.6,666.1 475.9,670.2 477.1,672.4 478.4,673.5 479.8,673.9 481.1,674.1 482.4,674.2 483.6,674.2 484.9,674.2 486.2,674.2 487.6,674.2 488.9,674.2 490.1,674.2 491.4,674.2 492.8,674.2 494.1,674.2 495.4,674.2 496.6,674.2 497.9,674.2 499.2,674.2 500.6,674.2 501.9,674.2 503.1,674.2 504.4,674.2 505.8,674.2 507.1,674.2 508.4,674.2 509.6,674.2 510.9,674.2 512.2,674.2 513.5,674.2 514.9,674.2 516.1,674.2 517.5,674.2" fill="none" stroke="#4a7cd0" stroke-width="0.95" stroke-linejoin="round" />
<polyline points="388.8,674.2 390.1,674.2 391.4,674.2 392.6,674.2 393.9,674.2 395.2,674.2 396.6,674.2 397.9,674.2 399.1,674.2 400.4,674.2 401.8,674.2 403.1,674.2 404.4,674.2 405.6,674.2 406.9,674.2 408.2,674.2 409.6,674.2 410.9,674.2 412.1,674.2 413.4,674.2 414.8,674.2 416.1,674.2 417.4,674.2 418.6,674.2 419.9,674.2 421.2,674.2 422.6,674.2 423.9,674.2 425.1,674.2 426.4,674.2 427.8,674.2 429.1,674.2 430.4,674.2 431.6,674.2 432.9,674.2 434.2,674.2 435.6,674.2 436.9,674.2 438.1,674.2 439.4,674.2 440.8,674.2 442.1,674.2 443.4,674.2 444.6,674.2 445.9,674.2 447.2,674.2 448.6,674.2 449.9,674.2 451.1,674.2 452.4,674.2 453.8,674.2 455.1,674.2 456.4,674.2 457.6,674.2 458.9,674.2 460.2,674.1 461.6,674.0 462.9,673.6 464.1,672.6 465.4,670.4 466.8,666.1 468.1,658.4 469.4,645.7 470.6,627.2 471.9,603.0 473.2,575.4 474.6,548.5 475.9,527.6 477.1,517.3 478.4,520.3 479.8,535.7 481.1,560.0 482.4,587.8 483.6,614.3 484.9,636.1 486.2,652.0 487.6,662.3 488.9,668.4 490.1,671.6 491.4,673.1 492.8,673.8 494.1,674.1 495.4,674.2 496.6,674.2 497.9,674.2 499.2,674.2 500.6,674.2 501.9,674.2 503.1,674.2 504.4,674.2 505.8,674.2 507.1,674.2 508.4,674.2 509.6,674.2 510.9,674.2 512.2,674.2 513.5,674.2 514.9,674.2 516.1,674.2 517.5,674.2" fill="none" stroke="#ea5656" stroke-width="0.95" stroke-linejoin="round" />
<polyline points="388.8,674.2 390.1,674.2 391.4,674.2 392.6,674.2 393.9,674.2 395.2,674.2 396.6,674.2 397.9,674.2 399.1,674.2 400.4,674.2 401.8,674.2 403.1,674.2 404.4,674.2 405.6,674.2 406.9,674.2 408.2,674.2 409.6,674.2 410.9,674.2 412.1,674.2 413.4,674.2 414.8,674.2 416.1,674.2 417.4,674.2 418.6,674.2 419.9,674.2 421.2,674.2 422.6,674.2 423.9,674.2 425.1,674.2 426.4,674.2 427.8,674.2 429.1,674.2 430.4,674.2 431.6,674.2 432.9,674.2 434.2,674.2 435.6,674.2 436.9,674.2 438.1,674.2 439.4,674.2 440.8,674.2 442.1,674.2 443.4,674.2 444.6,674.2 445.9,674.2 447.2,674.2 448.6,674.2 449.9,674.2 451.1,674.2 452.4,674.2 453.8,674.2 455.1,674.2 456.4,674.2 457.6,674.2 458.9,674.2 460.2,674.2 461.6,674.2 462.9,674.2 464.1,674.2 465.4,674.2 466.8,674.2 468.1,674.2 469.4,674.2 470.6,674.2 471.9,674.2 473.2,674.2 474.6,674.2 475.9,674.1 477.1,673.9 478.4,673.5 479.8,672.6 481.1,670.6 482.4,666.7 483.6,659.8 484.9,648.6 486.2,632.2 487.6,610.6 488.9,585.0 490.1,558.5 491.4,535.6 492.8,520.7 494.1,517.0 495.4,525.5 496.6,544.1 497.9,568.9 499.2,595.5 500.6,619.8 501.9,639.5 503.1,653.7 504.4,663.0 505.8,668.5 507.1,671.6 508.4,673.1 509.6,673.7 510.9,674.0 512.2,674.1 513.5,674.2 514.9,674.2 516.1,674.2 517.5,674.2" fill="none" stroke="#6e6e6e" stroke-width="0.95" stroke-linejoin="round" />
<rect x="388.6" y="516.25" width="130.0" height="157.95000000000005" fill="none" stroke="#555" stroke-width="1.4"/>
<line x1="388.60" y1="595.50" x2="390.60" y2="595.50" stroke="#333" stroke-width="0.8" />
<text x="382.00" y="521.90" font-size="10" text-anchor="middle" >1</text>
<text x="382.00" y="677.30" font-size="10" text-anchor="middle" >0</text>
<text x="387.85" y="685.00" font-size="10" text-anchor="middle" >-10</text>
<text x="413.50" y="685.00" font-size="10" text-anchor="middle" >-5</text>
<text x="441.60" y="685.00" font-size="10" text-anchor="middle" >0</text>
<text x="467.30" y="685.00" font-size="10" text-anchor="middle" >5</text>
<text x="493.00" y="685.00" font-size="10" text-anchor="middle" >10</text>
<line x1="401.75" y1="674.20" x2="401.75" y2="671.70" stroke="#333" stroke-width="0.9" />
<line x1="414.75" y1="674.20" x2="414.75" y2="671.70" stroke="#333" stroke-width="0.9" />
<line x1="427.75" y1="674.20" x2="427.75" y2="671.70" stroke="#333" stroke-width="0.9" />
<line x1="440.75" y1="674.20" x2="440.75" y2="671.70" stroke="#333" stroke-width="0.9" />
<line x1="453.75" y1="674.20" x2="453.75" y2="671.70" stroke="#333" stroke-width="0.9" />
<line x1="466.75" y1="674.20" x2="466.75" y2="671.70" stroke="#333" stroke-width="0.9" />
<line x1="479.75" y1="674.20" x2="479.75" y2="671.70" stroke="#333" stroke-width="0.9" />
<line x1="492.75" y1="674.20" x2="492.75" y2="671.70" stroke="#333" stroke-width="0.9" />
<line x1="505.75" y1="674.20" x2="505.75" y2="671.70" stroke="#333" stroke-width="0.9" />
<text x="441.00" y="696.50" font-size="10" text-anchor="middle" font-style="italic" >φ (°)</text>
<text x="376.60" y="595.00" font-size="10" text-anchor="middle" transform="rotate(-90 376.60 595.00)" >Normalized Intensity (arb.units)</text>
<line x1="390.50" y1="523.80" x2="408.50" y2="523.80" stroke="#bf98e8" stroke-width="1.4" />
<text x="411.50" y="527.30" font-size="10" >-1.2°</text>
<line x1="390.50" y1="537.40" x2="408.50" y2="537.40" stroke="#58be8e" stroke-width="1.4" />
<text x="411.50" y="540.90" font-size="10" >1.6°</text>
<line x1="390.50" y1="552.30" x2="408.50" y2="552.30" stroke="#4a7cd0" stroke-width="1.4" />
<text x="411.50" y="555.80" font-size="10" >4.4°</text>
<line x1="390.50" y1="567.50" x2="408.50" y2="567.50" stroke="#ea5656" stroke-width="1.4" />
<text x="411.50" y="571.00" font-size="10" >7.2°</text>
<line x1="390.50" y1="581.80" x2="408.50" y2="581.80" stroke="#6e6e6e" stroke-width="1.4" />
<text x="411.50" y="585.30" font-size="10" >9.8°</text>
<text x="521.00" y="510.00" font-size="10" font-weight="bold" >g</text>
<rect x="542.3" y="516.4" width="128.30000000000007" height="156.5" fill="none" stroke="#555" stroke-width="1.4"/>
<line x1="542.30" y1="520.09" x2="670.60" y2="662.65" stroke="#5b6ef0" stroke-width="0.95" />
<circle cx="542.30" cy="520.09" r="1.7" fill="#f01010"/>
<circle cx="574.38" cy="553.79" r="1.7" fill="#f01010"/>
<circle cx="606.45" cy="590.08" r="1.7" fill="#f01010"/>
<circle cx="638.52" cy="626.36" r="1.7" fill="#f01010"/>
<circle cx="670.60" cy="662.65" r="1.7" fill="#f01010"/>
<text x="539.30" y="534.90" font-size="10" text-anchor="end" >9</text>
<line x1="542.30" y1="530.46" x2="545.30" y2="530.46" stroke="#333" stroke-width="0.9" />
<text x="539.30" y="573.70" font-size="10" text-anchor="end" >6</text>
<line x1="542.30" y1="569.34" x2="545.30" y2="569.34" stroke="#333" stroke-width="0.9" />
<text x="539.30" y="613.30" font-size="10" text-anchor="end" >3</text>
<line x1="542.30" y1="608.22" x2="545.30" y2="608.22" stroke="#333" stroke-width="0.9" />
<text x="539.30" y="653.30" font-size="10" text-anchor="end" >0</text>
<line x1="542.30" y1="647.10" x2="545.30" y2="647.10" stroke="#333" stroke-width="0.9" />
<text x="537.60" y="684.90" font-size="10" text-anchor="middle" >1500</text>
<text x="572.30" y="684.90" font-size="10" text-anchor="middle" >1530</text>
<text x="606.80" y="684.90" font-size="10" text-anchor="middle" >1560</text>
<text x="641.50" y="684.90" font-size="10" text-anchor="middle" >1590</text>
<text x="674.60" y="684.90" font-size="10" text-anchor="middle" >1620</text>
<line x1="558.34" y1="672.90" x2="558.34" y2="670.40" stroke="#333" stroke-width="0.9" />
<line x1="574.38" y1="672.90" x2="574.38" y2="670.40" stroke="#333" stroke-width="0.9" />
<line x1="590.41" y1="672.90" x2="590.41" y2="670.40" stroke="#333" stroke-width="0.9" />
<line x1="606.45" y1="672.90" x2="606.45" y2="670.40" stroke="#333" stroke-width="0.9" />
<line x1="622.49" y1="672.90" x2="622.49" y2="670.40" stroke="#333" stroke-width="0.9" />
<line x1="638.52" y1="672.90" x2="638.52" y2="670.40" stroke="#333" stroke-width="0.9" />
<line x1="654.56" y1="672.90" x2="654.56" y2="670.40" stroke="#333" stroke-width="0.9" />
<text x="596.30" y="648.10" font-size="10" text-anchor="middle" >-0.0916 (°/nm)</text>
<text x="605.50" y="696.50" font-size="10" text-anchor="middle" >Wavelength (nm)</text>
<text x="529.90" y="589.30" font-size="10" text-anchor="middle" font-style="italic" transform="rotate(-90 529.90 589.30)" >φ (°)</text>
</svg></body></html>
